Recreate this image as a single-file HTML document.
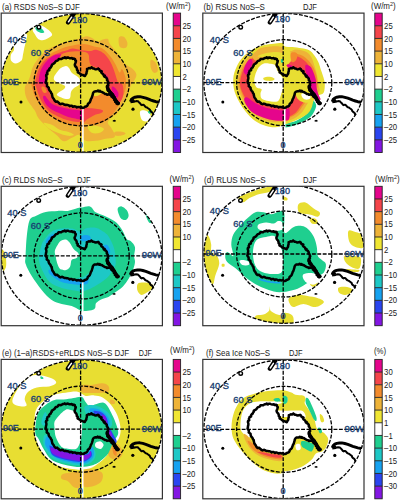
<!DOCTYPE html><html><head><meta charset="utf-8"><style>html,body{margin:0;padding:0;background:#fff;width:401px;height:500px;overflow:hidden}svg{display:block;font-family:"Liberation Sans",sans-serif}</style></head><body>
<svg width="401" height="500" viewBox="0 0 401 500">
<defs><clipPath id="ce"><ellipse cx="0" cy="0" rx="80.3" ry="69.3"/></clipPath>
<clipPath id="cl"><path d="M-35.8 0.2 L-35.3 -5.8 L-34.3 -10.8 L-31.8 -14.8 L-28.8 -18.8 L-25.8 -21.8 L-21.8 -23.8 L-17.8 -24.8 L-13.8 -25.3 L-9.8 -24.8 L-6.8 -23.8 L-5.8 -21.8 L-6.5 -19.5 L-6.3 -16.3 L-4.8 -12.8 L-2.8 -9.8 L0.2 -7.8 L3.2 -6.8 L4.7 -9.3 L5.2 -11.8 L5.2 -13.8 L7.2 -14.8 L10.2 -15.3 L12.2 -14.3 L16.2 -13.8 L19.2 -11.8 L21.2 -8.8 L23.2 -5.8 L25.2 -3.8 L26.4 -0.8 L26.2 1.2 L25.4 5.2 L26.4 8.2 L29.2 10.2 L31.5 12.5 L33.0 16.0 L34.7 19.2 L37.0 20.5 L35.5 21.2 L33.3 19.0 L31.3 15.0 L29.5 12.4 L27.6 11.8 L24.5 11.2 L21.3 9.9 L18.2 8.0 L14.2 8.4 L11.2 10.4 L10.2 14.2 L8.2 19.2 L5.2 23.2 L2.2 24.8 L-1.8 24.5 L-7.8 23.5 L-12.8 22.7 L-17.8 21.7 L-22.8 20.2 L-26.8 18.2 L-28.8 15.2 L-29.8 11.2 L-31.8 8.2 L-33.8 4.2 Z"/></clipPath>
<g id="land" fill="none" stroke="#000" stroke-width="2.5" stroke-linejoin="round"><path d="M-35.8 0.2 L-36.1 -0.8 L-35.6 -1.8 L-35.7 -2.8 L-35.3 -3.8 L-35.2 -4.8 L-35.3 -5.8 L-35.7 -6.9 L-35.5 -7.9 L-34.3 -8.7 L-34.8 -9.9 L-34.3 -10.8 L-34.0 -12.0 L-32.5 -12.5 L-32.5 -13.8 L-31.8 -14.8 L-30.9 -15.3 L-30.6 -16.4 L-29.9 -17.1 L-29.8 -18.3 L-28.8 -18.8 L-27.9 -19.4 L-27.0 -20.0 L-26.5 -21.0 L-25.8 -21.8 L-24.7 -22.0 L-23.7 -22.6 L-23.1 -23.8 L-21.8 -23.8 L-20.7 -23.7 L-19.8 -24.2 L-18.9 -24.8 L-17.8 -24.8 L-16.9 -25.5 L-15.7 -24.6 L-14.8 -25.2 L-13.8 -25.3 L-12.8 -24.9 L-11.9 -24.6 L-10.8 -24.6 L-9.8 -24.8 L-9.0 -23.9 L-7.8 -24.3 L-6.8 -23.8 L-6.6 -22.6 L-5.8 -21.8 L-6.1 -20.6 L-6.5 -19.5 L-7.0 -18.4 L-6.9 -17.3 L-6.3 -16.3 L-5.3 -15.3 L-4.9 -14.2 L-4.8 -12.8 L-3.8 -12.0 L-4.0 -10.5 L-2.8 -9.8 L-1.8 -9.2 L-0.9 -8.3 L0.2 -7.8 L1.3 -7.7 L2.2 -7.1 L3.2 -6.8 L3.8 -8.1 L4.7 -9.3 L4.8 -10.6 L5.2 -11.8 L5.3 -12.8 L5.2 -13.8 L6.2 -14.2 L7.2 -14.8 L8.3 -14.4 L9.2 -14.9 L10.2 -15.3 L11.0 -14.3 L12.2 -14.3 L13.1 -13.7 L14.1 -13.4 L15.2 -13.7 L16.2 -13.8 L17.4 -13.5 L17.9 -12.1 L19.2 -11.8 L19.4 -10.5 L20.1 -9.5 L21.2 -8.8 L21.8 -7.8 L22.3 -6.6 L23.2 -5.8 L24.5 -5.1 L25.2 -3.8 L25.2 -2.6 L25.9 -1.8 L26.4 -0.8 L26.6 0.2 L26.2 1.2 L26.6 2.3 L25.3 3.1 L25.0 4.1 L25.4 5.2 L26.2 6.0 L25.7 7.3 L26.4 8.2 L27.4 8.8 L28.5 9.2 L29.2 10.2 L30.2 10.8 L30.5 12.0 L31.5 12.5 L31.6 13.9 L33.0 14.6 L33.0 16.0 L33.4 17.1 L34.7 17.9 L34.7 19.2 L35.7 20.1 L37.0 20.5 L35.5 21.2 L34.6 20.6 L34.4 19.4 L33.3 19.0 L33.4 17.7 L32.3 17.0 L32.4 15.7 L31.3 15.0 L30.5 14.3 L29.6 13.6 L29.5 12.4 L27.6 11.8 L26.6 11.5 L25.4 12.0 L24.5 11.2 L23.3 11.1 L22.3 10.4 L21.3 9.9 L20.3 9.1 L19.0 9.0 L18.2 8.0 L17.3 8.7 L16.2 7.7 L15.2 8.5 L14.2 8.4 L12.9 8.6 L11.9 9.3 L11.2 10.4 L11.0 11.7 L10.6 12.9 L10.2 14.2 L9.8 15.2 L9.2 16.1 L8.9 17.2 L8.5 18.2 L8.2 19.2 L7.3 20.1 L6.2 20.9 L5.9 22.2 L5.2 23.2 L4.2 23.8 L3.1 24.0 L2.2 24.8 L1.2 25.1 L0.2 24.9 L-0.8 24.0 L-1.8 24.5 L-2.8 24.3 L-3.8 24.1 L-4.9 24.6 L-5.8 23.9 L-6.8 23.6 L-7.8 23.5 L-8.9 24.0 L-9.8 23.0 L-10.8 22.9 L-11.9 23.4 L-12.8 22.7 L-13.8 22.3 L-14.8 22.3 L-15.8 21.9 L-16.8 22.1 L-17.8 21.7 L-18.7 21.1 L-19.7 20.8 L-21.0 21.4 L-22.0 21.0 L-22.8 20.2 L-23.7 19.5 L-24.5 18.7 L-25.9 19.0 L-26.8 18.2 L-27.5 17.2 L-28.0 16.1 L-28.8 15.2 L-29.3 14.3 L-29.5 13.2 L-29.8 12.3 L-29.8 11.2 L-30.6 10.3 L-31.0 9.1 L-31.8 8.2 L-32.5 7.3 L-32.9 6.3 L-33.0 5.0 L-33.8 4.2 L-34.9 3.5 L-34.7 2.2 L-35.0 1.1 Z"/>
<path d="M25.8 5.5 L28.3 9.3 L30.9 12.4 L32.8 15.8 L34.8 18.8 L36.4 20.6" stroke-width="3.4" stroke-linecap="round"/>
<circle cx="16.5" cy="-14.6" r="0.9" fill="#000" stroke="none"/>
<circle cx="20.2" cy="-11.6" r="1.0" fill="#000" stroke="none"/>
<circle cx="23.2" cy="-7.2" r="1.1" fill="#000" stroke="none"/>
<circle cx="25.6" cy="-3.6" r="1.0" fill="#000" stroke="none"/>
<circle cx="27.1" cy="0.2" r="0.9" fill="#000" stroke="none"/>
<circle cx="26.6" cy="4.2" r="1.0" fill="#000" stroke="none"/>
<circle cx="28.2" cy="8.6" r="1.1" fill="#000" stroke="none"/>
<circle cx="30.8" cy="11.4" r="1.2" fill="#000" stroke="none"/>
<circle cx="33.6" cy="15.8" r="1.1" fill="#000" stroke="none"/>
<circle cx="36.2" cy="19.8" r="1.2" fill="#000" stroke="none"/>
<circle cx="9.6" cy="-16.0" r="0.8" fill="#000" stroke="none"/>
<path d="M-13.7 -60.4 L-8.2 -68.8" stroke-width="4.4" stroke-linecap="round"/>
<path d="M-13.3 -61.0 L-10.2 -65.6" stroke="#fff" stroke-width="1.5" stroke-linecap="round"/>
<path d="M-8.2 -68.8 L-6.5 -71" stroke-width="2.4"/>
<circle cx="-42.9" cy="-55.6" r="1.8" fill="#fff" stroke-width="1.4"/>
<path d="M48.7 18.9 L49.6 16.6 L51.2 15.2 L53.2 14.4 L55.8 14 L58.2 13.9 L61.2 14.5 L64.2 15.4 L66.8 16.4 L69.2 17.4 L71.8 18.2 L74.2 18.9 L77.6 19.5" stroke-width="2.9"/>
<path d="M48.7 19.4 L50.5 19.2 L52.2 18.9 L54.4 18.3 L56.2 18.4 L57.3 19.6 L58.2 20.4 L59.2 21.8 L60.2 22.4 L61.3 21.9 L62.2 22.4 L63.2 23.6 L64.2 24.4 L65.3 24.7 L66.2 25.4 L67.3 26.2 L68.2 26.9 L68.6 28.1 L69.2 28.9 L70.3 29.6 L71.2 30.4 L71.7 32.4" stroke-width="2.0"/>
<ellipse cx="50.5" cy="17.5" rx="2.2" ry="1.6" fill="#000" stroke="none"/>
<circle cx="51.2" cy="26.4" r="1.6" fill="#000" stroke="none"/>
<circle cx="32.5" cy="37.8" r="0.9" fill="#000" stroke="none"/>
<circle cx="-60.8" cy="19.2" r="1.5" fill="#000" stroke="none"/>
<path d="M31 38 h3" stroke-width="1.2"/></g>
<clipPath id="cba"><rect x="1.2" y="13.1" width="161.2" height="139.4"/></clipPath>
<clipPath id="cea"><ellipse cx="81.6" cy="82.9" rx="80.3" ry="69.3"/></clipPath>
<clipPath id="cla"><path transform="translate(81.8 82.8)" d="M-35.8 0.2 L-35.3 -5.8 L-34.3 -10.8 L-31.8 -14.8 L-28.8 -18.8 L-25.8 -21.8 L-21.8 -23.8 L-17.8 -24.8 L-13.8 -25.3 L-9.8 -24.8 L-6.8 -23.8 L-5.8 -21.8 L-6.5 -19.5 L-6.3 -16.3 L-4.8 -12.8 L-2.8 -9.8 L0.2 -7.8 L3.2 -6.8 L4.7 -9.3 L5.2 -11.8 L5.2 -13.8 L7.2 -14.8 L10.2 -15.3 L12.2 -14.3 L16.2 -13.8 L19.2 -11.8 L21.2 -8.8 L23.2 -5.8 L25.2 -3.8 L26.4 -0.8 L26.2 1.2 L25.4 5.2 L26.4 8.2 L29.2 10.2 L31.5 12.5 L33.0 16.0 L34.7 19.2 L37.0 20.5 L35.5 21.2 L33.3 19.0 L31.3 15.0 L29.5 12.4 L27.6 11.8 L24.5 11.2 L21.3 9.9 L18.2 8.0 L14.2 8.4 L11.2 10.4 L10.2 14.2 L8.2 19.2 L5.2 23.2 L2.2 24.8 L-1.8 24.5 L-7.8 23.5 L-12.8 22.7 L-17.8 21.7 L-22.8 20.2 L-26.8 18.2 L-28.8 15.2 L-29.8 11.2 L-31.8 8.2 L-33.8 4.2 Z"/></clipPath>
<clipPath id="cbb"><rect x="202.8" y="13.1" width="161.2" height="139.4"/></clipPath>
<clipPath id="ceb"><ellipse cx="284.2" cy="82.7" rx="80.3" ry="69.3"/></clipPath>
<clipPath id="clb"><path transform="translate(283.6 82.8)" d="M-35.8 0.2 L-35.3 -5.8 L-34.3 -10.8 L-31.8 -14.8 L-28.8 -18.8 L-25.8 -21.8 L-21.8 -23.8 L-17.8 -24.8 L-13.8 -25.3 L-9.8 -24.8 L-6.8 -23.8 L-5.8 -21.8 L-6.5 -19.5 L-6.3 -16.3 L-4.8 -12.8 L-2.8 -9.8 L0.2 -7.8 L3.2 -6.8 L4.7 -9.3 L5.2 -11.8 L5.2 -13.8 L7.2 -14.8 L10.2 -15.3 L12.2 -14.3 L16.2 -13.8 L19.2 -11.8 L21.2 -8.8 L23.2 -5.8 L25.2 -3.8 L26.4 -0.8 L26.2 1.2 L25.4 5.2 L26.4 8.2 L29.2 10.2 L31.5 12.5 L33.0 16.0 L34.7 19.2 L37.0 20.5 L35.5 21.2 L33.3 19.0 L31.3 15.0 L29.5 12.4 L27.6 11.8 L24.5 11.2 L21.3 9.9 L18.2 8.0 L14.2 8.4 L11.2 10.4 L10.2 14.2 L8.2 19.2 L5.2 23.2 L2.2 24.8 L-1.8 24.5 L-7.8 23.5 L-12.8 22.7 L-17.8 21.7 L-22.8 20.2 L-26.8 18.2 L-28.8 15.2 L-29.8 11.2 L-31.8 8.2 L-33.8 4.2 Z"/></clipPath>
<clipPath id="cbc"><rect x="1.2" y="186.3" width="161.2" height="139.4"/></clipPath>
<clipPath id="cec"><ellipse cx="81.6" cy="255.9" rx="80.3" ry="69.3"/></clipPath>
<clipPath id="clc"><path transform="translate(81.6 256.0)" d="M-35.8 0.2 L-35.3 -5.8 L-34.3 -10.8 L-31.8 -14.8 L-28.8 -18.8 L-25.8 -21.8 L-21.8 -23.8 L-17.8 -24.8 L-13.8 -25.3 L-9.8 -24.8 L-6.8 -23.8 L-5.8 -21.8 L-6.5 -19.5 L-6.3 -16.3 L-4.8 -12.8 L-2.8 -9.8 L0.2 -7.8 L3.2 -6.8 L4.7 -9.3 L5.2 -11.8 L5.2 -13.8 L7.2 -14.8 L10.2 -15.3 L12.2 -14.3 L16.2 -13.8 L19.2 -11.8 L21.2 -8.8 L23.2 -5.8 L25.2 -3.8 L26.4 -0.8 L26.2 1.2 L25.4 5.2 L26.4 8.2 L29.2 10.2 L31.5 12.5 L33.0 16.0 L34.7 19.2 L37.0 20.5 L35.5 21.2 L33.3 19.0 L31.3 15.0 L29.5 12.4 L27.6 11.8 L24.5 11.2 L21.3 9.9 L18.2 8.0 L14.2 8.4 L11.2 10.4 L10.2 14.2 L8.2 19.2 L5.2 23.2 L2.2 24.8 L-1.8 24.5 L-7.8 23.5 L-12.8 22.7 L-17.8 21.7 L-22.8 20.2 L-26.8 18.2 L-28.8 15.2 L-29.8 11.2 L-31.8 8.2 L-33.8 4.2 Z"/></clipPath>
<clipPath id="cbd"><rect x="202.8" y="186.3" width="161.2" height="139.4"/></clipPath>
<clipPath id="ced"><ellipse cx="284.2" cy="254.0" rx="80.3" ry="69.3"/></clipPath>
<clipPath id="cld"><path transform="translate(283.4 256.0)" d="M-35.8 0.2 L-35.3 -5.8 L-34.3 -10.8 L-31.8 -14.8 L-28.8 -18.8 L-25.8 -21.8 L-21.8 -23.8 L-17.8 -24.8 L-13.8 -25.3 L-9.8 -24.8 L-6.8 -23.8 L-5.8 -21.8 L-6.5 -19.5 L-6.3 -16.3 L-4.8 -12.8 L-2.8 -9.8 L0.2 -7.8 L3.2 -6.8 L4.7 -9.3 L5.2 -11.8 L5.2 -13.8 L7.2 -14.8 L10.2 -15.3 L12.2 -14.3 L16.2 -13.8 L19.2 -11.8 L21.2 -8.8 L23.2 -5.8 L25.2 -3.8 L26.4 -0.8 L26.2 1.2 L25.4 5.2 L26.4 8.2 L29.2 10.2 L31.5 12.5 L33.0 16.0 L34.7 19.2 L37.0 20.5 L35.5 21.2 L33.3 19.0 L31.3 15.0 L29.5 12.4 L27.6 11.8 L24.5 11.2 L21.3 9.9 L18.2 8.0 L14.2 8.4 L11.2 10.4 L10.2 14.2 L8.2 19.2 L5.2 23.2 L2.2 24.8 L-1.8 24.5 L-7.8 23.5 L-12.8 22.7 L-17.8 21.7 L-22.8 20.2 L-26.8 18.2 L-28.8 15.2 L-29.8 11.2 L-31.8 8.2 L-33.8 4.2 Z"/></clipPath>
<clipPath id="cbe"><rect x="1.2" y="359.4" width="161.2" height="139.4"/></clipPath>
<clipPath id="cee"><ellipse cx="81.6" cy="429.1" rx="80.3" ry="69.3"/></clipPath>
<clipPath id="cle"><path transform="translate(81.6 428.9)" d="M-35.8 0.2 L-35.3 -5.8 L-34.3 -10.8 L-31.8 -14.8 L-28.8 -18.8 L-25.8 -21.8 L-21.8 -23.8 L-17.8 -24.8 L-13.8 -25.3 L-9.8 -24.8 L-6.8 -23.8 L-5.8 -21.8 L-6.5 -19.5 L-6.3 -16.3 L-4.8 -12.8 L-2.8 -9.8 L0.2 -7.8 L3.2 -6.8 L4.7 -9.3 L5.2 -11.8 L5.2 -13.8 L7.2 -14.8 L10.2 -15.3 L12.2 -14.3 L16.2 -13.8 L19.2 -11.8 L21.2 -8.8 L23.2 -5.8 L25.2 -3.8 L26.4 -0.8 L26.2 1.2 L25.4 5.2 L26.4 8.2 L29.2 10.2 L31.5 12.5 L33.0 16.0 L34.7 19.2 L37.0 20.5 L35.5 21.2 L33.3 19.0 L31.3 15.0 L29.5 12.4 L27.6 11.8 L24.5 11.2 L21.3 9.9 L18.2 8.0 L14.2 8.4 L11.2 10.4 L10.2 14.2 L8.2 19.2 L5.2 23.2 L2.2 24.8 L-1.8 24.5 L-7.8 23.5 L-12.8 22.7 L-17.8 21.7 L-22.8 20.2 L-26.8 18.2 L-28.8 15.2 L-29.8 11.2 L-31.8 8.2 L-33.8 4.2 Z"/></clipPath>
<clipPath id="cbf"><rect x="202.8" y="359.4" width="161.2" height="139.4"/></clipPath>
<clipPath id="cef"><ellipse cx="284.2" cy="429.3" rx="80.3" ry="69.3"/></clipPath>
<clipPath id="clf"><path transform="translate(283.6 429.0)" d="M-35.8 0.2 L-35.3 -5.8 L-34.3 -10.8 L-31.8 -14.8 L-28.8 -18.8 L-25.8 -21.8 L-21.8 -23.8 L-17.8 -24.8 L-13.8 -25.3 L-9.8 -24.8 L-6.8 -23.8 L-5.8 -21.8 L-6.5 -19.5 L-6.3 -16.3 L-4.8 -12.8 L-2.8 -9.8 L0.2 -7.8 L3.2 -6.8 L4.7 -9.3 L5.2 -11.8 L5.2 -13.8 L7.2 -14.8 L10.2 -15.3 L12.2 -14.3 L16.2 -13.8 L19.2 -11.8 L21.2 -8.8 L23.2 -5.8 L25.2 -3.8 L26.4 -0.8 L26.2 1.2 L25.4 5.2 L26.4 8.2 L29.2 10.2 L31.5 12.5 L33.0 16.0 L34.7 19.2 L37.0 20.5 L35.5 21.2 L33.3 19.0 L31.3 15.0 L29.5 12.4 L27.6 11.8 L24.5 11.2 L21.3 9.9 L18.2 8.0 L14.2 8.4 L11.2 10.4 L10.2 14.2 L8.2 19.2 L5.2 23.2 L2.2 24.8 L-1.8 24.5 L-7.8 23.5 L-12.8 22.7 L-17.8 21.7 L-22.8 20.2 L-26.8 18.2 L-28.8 15.2 L-29.8 11.2 L-31.8 8.2 L-33.8 4.2 Z"/></clipPath>
</defs>
<rect x="1.2" y="13.1" width="161.2" height="139.4" fill="#fff"/>
<g clip-path="url(#cba)">
<g clip-path="url(#cea)">
<ellipse cx="81.6" cy="82.9" rx="80.3" ry="69.3" fill="#e8de32"/>
<g transform="translate(81.8 82.8)">
<path d="M-47.6 -55.3 C-46.7 -56.3 -45.5 -58.2 -43.9 -58.3 C-42.3 -58.4 -39.9 -57.2 -37.9 -56.1 C-35.9 -55.0 -33.3 -53.0 -31.9 -51.6 C-30.5 -50.2 -29.4 -48.9 -29.7 -47.8 C-29.9 -46.7 -31.8 -45.7 -33.4 -44.8 C-35.0 -43.9 -37.6 -42.7 -39.4 -42.6 C-41.1 -42.5 -42.6 -43.1 -43.9 -44.1 C-45.1 -45.1 -46.0 -47.2 -46.9 -48.6 C-47.8 -50.0 -49.0 -51.2 -49.1 -52.3 C-49.2 -53.4 -48.5 -54.3 -47.6 -55.3 Z" fill="#ffffff"/>
<path d="M-46.5 -55.0 C-46.2 -55.8 -44.2 -56.8 -43.0 -56.5 C-41.8 -56.2 -40.4 -54.5 -39.5 -53.5 C-38.6 -52.5 -37.3 -51.1 -37.5 -50.5 C-37.7 -49.9 -39.3 -49.6 -40.5 -49.8 C-41.7 -50.0 -43.5 -50.6 -44.5 -51.5 C-45.5 -52.4 -46.8 -54.2 -46.5 -55.0 Z" fill="#1fcf8f"/>
<path d="M-55.1 -48.6 C-53.9 -47.9 -55.4 -43.9 -55.8 -41.8 C-56.2 -39.7 -56.8 -38.1 -57.3 -35.9 C-57.8 -33.7 -58.3 -30.6 -58.8 -28.4 C-59.3 -26.1 -59.0 -23.9 -60.3 -22.4 C-61.5 -20.9 -64.5 -19.4 -66.3 -19.4 C-68.0 -19.4 -70.0 -20.9 -70.8 -22.4 C-71.5 -23.9 -71.3 -26.6 -70.8 -28.4 C-70.3 -30.1 -68.3 -30.9 -67.8 -32.9 C-67.3 -34.9 -68.5 -38.1 -67.8 -40.3 C-67.0 -42.5 -65.4 -44.9 -63.3 -46.3 C-61.2 -47.7 -56.4 -49.4 -55.1 -48.6 Z" fill="#ffffff"/>
<path d="M58.2 29.0 C58.7 27.4 61.5 27.4 63.0 27.6 C64.5 27.8 66.0 28.9 67.0 30.0 C68.0 31.1 69.3 32.6 69.0 34.0 C68.7 35.4 66.5 38.0 65.0 38.5 C63.5 39.0 61.1 38.6 60.0 37.0 C58.9 35.4 57.7 30.6 58.2 29.0 Z" fill="#ffffff"/>
<path d="M66.0 29.0 C66.2 28.3 68.2 27.0 69.0 27.0 C69.8 27.0 70.7 28.3 70.5 29.0 C70.3 29.7 68.8 31.0 68.0 31.0 C67.2 31.0 65.8 29.7 66.0 29.0 Z" fill="#1fcf8f"/>
<path d="M37.1 -45.1 C37.8 -46.8 40.6 -46.9 42.0 -46.0 C43.4 -45.1 45.3 -41.8 45.6 -40.0 C45.9 -38.2 45.3 -35.7 44.0 -35.0 C42.7 -34.3 39.1 -34.3 38.0 -36.0 C36.9 -37.7 36.4 -43.4 37.1 -45.1 Z" fill="#eeb338"/>
<path d="M69.0 -22.8 C69.8 -23.6 72.8 -21.8 74.0 -20.0 C75.2 -18.2 76.3 -13.7 76.0 -12.0 C75.7 -10.3 73.2 -9.5 72.0 -10.0 C70.8 -10.5 69.5 -12.9 69.0 -15.0 C68.5 -17.1 68.2 -22.0 69.0 -22.8 Z" fill="#eeb338"/>
<path d="M33.0 49.3 C34.2 48.7 38.2 48.7 40.0 49.0 C41.8 49.3 44.1 50.3 43.8 51.0 C43.5 51.7 39.8 52.8 38.0 53.0 C36.2 53.2 33.8 53.1 33.0 52.5 C32.2 51.9 31.8 49.9 33.0 49.3 Z" fill="#eeb338"/>
<path d="M-51.8 -6.3 C-51.0 -8.7 -50.3 -12.8 -49.2 -15.4 C-48.1 -18.0 -46.8 -19.8 -45.3 -21.9 C-43.8 -24.0 -42.0 -26.4 -40.1 -28.3 C-38.2 -30.2 -36.0 -32.0 -33.6 -33.5 C-31.2 -35.0 -28.5 -36.3 -25.9 -37.4 C-23.3 -38.5 -20.9 -39.2 -18.1 -40.0 C-15.3 -40.8 -12.1 -41.1 -9.0 -42.0 C-5.9 -42.9 -2.2 -44.5 0.2 -45.2 C2.6 -46.0 3.7 -46.6 5.4 -46.5 C7.1 -46.4 8.9 -45.5 10.6 -44.6 C12.3 -43.7 14.1 -41.5 15.8 -41.3 C17.5 -41.1 19.2 -42.9 20.9 -43.3 C22.6 -43.7 25.0 -44.4 26.1 -43.9 C27.2 -43.4 26.5 -41.5 27.4 -40.0 C28.3 -38.5 29.8 -36.8 31.3 -34.8 C32.8 -32.8 35.0 -30.4 36.5 -28.3 C38.0 -26.2 38.9 -23.7 40.4 -21.9 C41.9 -20.1 43.8 -18.8 45.6 -17.4 C47.4 -16.0 49.5 -15.3 51.0 -13.8 C52.5 -12.3 54.3 -10.2 54.6 -8.4 C54.9 -6.6 53.7 -4.8 52.8 -3.0 C51.9 -1.2 50.1 0.6 49.2 2.4 C48.3 4.2 48.0 6.0 47.4 7.8 C46.8 9.6 46.5 11.4 45.6 13.2 C44.7 15.0 43.2 16.5 42.0 18.6 C40.8 20.7 39.6 23.7 38.4 25.8 C37.2 27.9 36.3 29.8 34.8 31.3 C33.3 32.8 30.9 33.4 29.4 34.9 C27.9 36.4 25.9 38.1 26.0 40.0 C26.1 41.9 28.8 43.7 30.0 46.0 C31.2 48.3 34.0 52.3 33.0 54.0 C32.0 55.7 27.2 55.3 24.0 56.0 C20.8 56.7 17.3 57.7 14.0 58.0 C10.7 58.3 6.8 59.0 4.0 58.0 C1.2 57.0 -0.2 52.5 -2.5 52.0 C-4.8 51.5 -7.4 53.9 -10.0 55.0 C-12.6 56.1 -15.5 58.9 -18.0 58.5 C-20.5 58.1 -22.6 54.4 -25.0 52.4 C-27.4 50.4 -29.7 48.9 -32.7 46.2 C-35.7 43.5 -40.5 39.1 -42.9 36.0 C-45.3 32.9 -45.0 31.2 -47.0 27.8 C-49.0 24.4 -53.5 19.4 -55.2 15.6 C-56.9 11.8 -57.2 7.8 -57.0 5.0 C-56.8 2.2 -54.9 0.9 -54.0 -1.0 C-53.1 -2.9 -52.6 -3.9 -51.8 -6.3 Z" fill="#eeb338"/>
<path d="M-38.0 40.0 C-37.3 39.5 -32.7 40.8 -30.0 42.0 C-27.3 43.2 -24.7 45.8 -22.0 47.0 C-19.3 48.2 -16.3 48.2 -14.0 49.0 C-11.7 49.8 -8.0 51.3 -8.0 52.0 C-8.0 52.7 -11.3 53.3 -14.0 53.0 C-16.7 52.7 -20.7 51.3 -24.0 50.0 C-27.3 48.7 -31.7 46.7 -34.0 45.0 C-36.3 43.3 -38.7 40.5 -38.0 40.0 Z" fill="#e8de32"/>
<path d="M6.0 44.0 C6.7 42.8 11.3 42.7 14.0 43.0 C16.7 43.3 21.3 44.8 22.0 46.0 C22.7 47.2 20.0 49.3 18.0 50.0 C16.0 50.7 12.0 51.0 10.0 50.0 C8.0 49.0 5.3 45.2 6.0 44.0 Z" fill="#e8de32"/>
<path d="M-50.5 0.2 C-50.7 1.3 -49.9 4.3 -49.2 6.7 C-48.6 9.1 -47.9 11.9 -46.6 14.5 C-45.3 17.1 -43.3 19.6 -41.4 22.2 C-39.5 24.8 -37.6 27.6 -35.0 30.0 C-32.4 32.4 -29.1 34.8 -25.9 36.5 C-22.6 38.2 -19.4 39.3 -15.5 40.4 C-11.6 41.5 -5.8 42.9 -2.5 43.0 C0.8 43.1 1.9 41.2 4.0 41.0 C6.1 40.8 7.3 42.2 10.0 42.0 C12.7 41.8 17.3 41.0 20.0 40.0 C22.7 39.0 24.0 37.7 26.0 36.0 C28.0 34.3 30.3 32.0 32.0 30.0 C33.7 28.0 34.7 26.3 36.0 24.0 C37.3 21.7 38.7 19.0 40.0 16.0 C41.3 13.0 43.2 9.5 43.8 6.0 C44.4 2.5 44.4 -1.5 43.8 -4.8 C43.2 -8.1 41.2 -12.9 40.2 -13.8 C39.2 -14.7 38.8 -9.5 37.8 -10.2 C36.8 -10.9 35.2 -15.6 33.9 -18.0 C32.6 -20.4 31.5 -22.4 30.0 -24.5 C28.5 -26.6 26.5 -29.2 24.8 -30.9 C23.1 -32.6 21.6 -33.9 19.7 -34.8 C17.8 -35.7 15.4 -35.5 13.2 -36.1 C11.0 -36.7 8.9 -37.7 6.7 -38.1 C4.5 -38.5 2.8 -38.8 0.2 -38.7 C-2.4 -38.6 -6.2 -37.9 -9.0 -37.4 C-11.8 -36.9 -14.2 -36.4 -16.8 -35.5 C-19.4 -34.6 -22.0 -33.4 -24.6 -32.2 C-27.2 -31.0 -29.9 -29.8 -32.3 -28.3 C-34.7 -26.8 -36.8 -25.1 -38.8 -23.2 C-40.8 -21.3 -42.7 -19.1 -44.0 -16.7 C-45.3 -14.3 -46.0 -11.7 -46.6 -8.9 C-47.2 -6.1 -47.2 -1.3 -47.9 0.2 C-48.5 1.7 -50.3 -0.9 -50.5 0.2 Z" fill="#f38b2c"/>
<path d="M-46.6 0.2 C-46.7 2.6 -45.9 3.2 -45.3 5.4 C-44.6 7.6 -43.8 10.6 -42.7 13.2 C-41.6 15.8 -40.5 18.4 -38.8 21.0 C-37.1 23.6 -34.9 26.6 -32.3 28.7 C-29.7 30.8 -26.5 32.4 -23.3 33.9 C-20.1 35.4 -16.4 36.9 -12.9 37.8 C-9.4 38.7 -4.5 39.7 -2.5 39.1 C-0.5 38.5 -1.2 36.2 -1.0 34.0 C-0.8 31.8 0.5 27.5 -1.0 26.0 C-2.5 24.5 -6.8 25.5 -10.0 25.0 C-13.2 24.5 -16.8 24.3 -20.0 23.0 C-23.2 21.7 -26.8 19.5 -29.0 17.0 C-31.2 14.5 -32.2 10.8 -33.0 8.0 C-33.8 5.2 -33.8 2.8 -34.0 0.0 C-34.2 -2.8 -34.5 -6.4 -34.0 -9.0 C-33.5 -11.6 -32.0 -13.5 -31.0 -15.5 C-30.0 -17.5 -29.2 -19.2 -28.0 -21.0 C-26.8 -22.8 -25.7 -24.6 -24.0 -26.0 C-22.3 -27.4 -20.0 -28.7 -18.0 -29.5 C-16.0 -30.3 -14.0 -30.7 -12.0 -31.0 C-10.0 -31.3 -8.0 -31.5 -6.0 -31.5 C-4.0 -31.5 -1.8 -31.4 0.0 -31.2 C1.8 -30.9 3.8 -30.6 5.0 -30.0 C6.2 -29.4 6.6 -28.8 7.0 -27.5 C7.4 -26.2 7.2 -23.5 7.5 -22.0 C7.8 -20.5 8.0 -19.4 8.5 -18.5 C9.0 -17.6 9.5 -17.3 10.6 -16.7 C11.7 -16.1 13.6 -15.8 15.0 -15.0 C16.4 -14.2 17.7 -13.3 19.0 -12.0 C20.3 -10.7 21.8 -8.8 23.0 -7.0 C24.2 -5.2 25.2 -2.8 26.0 -1.0 C26.8 0.8 27.2 2.3 28.0 4.0 C28.8 5.7 29.8 9.6 31.0 9.0 C32.2 8.4 34.9 2.5 35.5 0.2 C36.1 -2.1 35.0 -3.0 34.5 -5.0 C34.0 -7.0 33.2 -9.3 32.5 -11.5 C31.8 -13.7 30.9 -16.0 30.0 -18.0 C29.1 -20.0 28.2 -21.8 27.0 -23.5 C25.8 -25.2 24.5 -27.1 23.0 -28.5 C21.5 -29.9 19.7 -31.1 18.0 -31.8 C16.3 -32.5 14.5 -33.0 13.0 -33.0 C11.5 -33.0 11.2 -31.9 9.0 -31.8 C6.8 -31.7 3.0 -32.1 0.0 -32.5 C-3.0 -32.9 -6.4 -34.2 -9.0 -34.2 C-11.6 -34.2 -13.3 -32.9 -15.5 -32.2 C-17.7 -31.6 -19.6 -31.2 -22.0 -30.3 C-24.4 -29.4 -27.4 -28.3 -29.8 -27.1 C-32.2 -25.9 -34.3 -24.9 -36.2 -23.2 C-38.1 -21.5 -40.0 -19.1 -41.4 -16.7 C-42.8 -14.3 -43.8 -11.7 -44.7 -8.9 C-45.6 -6.1 -46.5 -2.2 -46.6 0.2 Z" fill="#f5454a"/>
<path d="M-40.1 4.1 C-39.6 3.7 -37.9 3.6 -37.0 4.5 C-36.1 5.4 -34.8 8.4 -35.0 9.3 C-35.2 10.2 -37.2 10.4 -38.0 10.0 C-38.8 9.6 -39.6 8.0 -40.0 7.0 C-40.4 6.0 -40.6 4.5 -40.1 4.1 Z" fill="#f38b2c"/>
<path d="M-42.7 0.2 C-43.4 -1.4 -42.8 -6.1 -42.1 -8.9 C-41.5 -11.7 -40.2 -14.3 -38.8 -16.7 C-37.4 -19.1 -35.3 -21.5 -33.6 -23.2 C-31.9 -24.9 -30.0 -26.2 -28.5 -27.1 C-27.0 -28.0 -25.9 -28.1 -24.6 -28.3 C-23.3 -28.5 -21.1 -28.9 -20.7 -28.5 C-20.3 -28.1 -21.4 -26.6 -22.0 -25.8 C-22.6 -25.0 -23.5 -24.7 -24.6 -23.8 C-25.7 -22.9 -27.2 -22.0 -28.5 -20.6 C-29.8 -19.2 -31.2 -17.4 -32.3 -15.4 C-33.4 -13.4 -34.5 -11.3 -35.0 -8.9 C-35.5 -6.5 -35.0 -2.6 -35.5 -1.0 C-36.0 0.6 -36.8 0.3 -38.0 0.5 C-39.2 0.7 -42.0 1.8 -42.7 0.2 Z" fill="#e5058c"/>
<path d="M-38.8 14.5 C-38.7 15.8 -37.5 19.1 -36.2 21.0 C-34.9 22.9 -33.1 24.6 -31.0 26.1 C-28.9 27.6 -26.1 28.7 -23.3 30.0 C-20.5 31.3 -17.7 32.8 -14.2 33.9 C-10.7 35.0 -4.9 36.0 -2.5 36.5 C-0.1 37.0 0.0 38.1 0.5 36.6 C1.0 35.1 1.0 29.0 0.5 27.5 C0.0 26.0 -0.3 27.6 -2.5 27.4 C-4.7 27.2 -9.7 26.6 -12.9 26.1 C-16.1 25.6 -19.2 25.1 -22.0 24.2 C-24.8 23.3 -27.6 22.5 -29.8 21.0 C-32.0 19.5 -33.8 16.4 -35.0 15.1 C-36.2 13.8 -36.4 13.1 -37.0 13.0 C-37.6 12.9 -38.9 13.2 -38.8 14.5 Z" fill="#e5058c"/>
<path d="M1.5 26.1 C2.6 23.8 5.6 25.5 8.0 25.5 C10.4 25.5 13.7 25.8 15.8 26.1 C17.9 26.4 20.2 26.8 20.9 27.4 C21.5 28.0 21.2 29.1 19.7 30.0 C18.2 30.9 14.3 31.5 11.9 32.6 C9.5 33.7 7.1 35.4 5.4 36.5 C3.7 37.6 2.1 40.8 1.5 39.1 C0.8 37.4 0.4 28.4 1.5 26.1 Z" fill="#f5454a"/>
<path d="M26.0 -1.0 C25.9 -2.3 25.2 0.0 27.4 0.2 C29.6 0.4 36.7 -1.1 39.1 0.2 C41.5 1.5 41.5 5.4 41.7 8.0 C41.9 10.6 41.3 13.6 40.4 15.8 C39.5 18.0 37.7 20.3 36.5 21.0 C35.3 21.7 33.9 21.2 33.0 20.0 C32.1 18.8 31.8 16.0 31.0 14.0 C30.2 12.0 28.8 10.5 28.0 8.0 C27.2 5.5 26.1 0.3 26.0 -1.0 Z" fill="#f5454a"/>
<path d="M30.0 4.1 C30.4 3.4 31.9 4.0 33.0 5.0 C34.1 6.0 36.0 8.4 36.5 10.0 C37.0 11.6 36.6 13.8 36.0 14.5 C35.4 15.2 33.9 14.9 33.0 14.0 C32.1 13.1 31.0 10.7 30.5 9.0 C30.0 7.3 29.6 4.8 30.0 4.1 Z" fill="#e5058c"/>
<path d="M23.0 -9.0 C23.3 -9.1 25.5 -6.8 26.0 -6.0 C26.5 -5.2 26.4 -4.1 26.1 -4.0 C25.8 -3.9 24.5 -4.7 24.0 -5.5 C23.5 -6.3 22.7 -8.9 23.0 -9.0 Z" fill="#e5058c"/>
<path d="M12.0 10.0 C12.8 9.2 15.7 8.5 17.0 8.5 C18.3 8.5 20.2 9.2 20.0 10.0 C19.8 10.8 17.3 12.5 16.0 13.0 C14.7 13.5 12.7 13.5 12.0 13.0 C11.3 12.5 11.2 10.8 12.0 10.0 Z" fill="#e8de32"/>
<rect x="0.3" y="20" width="1.6" height="55" fill="#fff"/>
</g></g>
<g clip-path="url(#cla)"><g transform="translate(81.8 82.8)">
<path d="M-35.8 0.2 L-35.3 -5.8 L-34.3 -10.8 L-31.8 -14.8 L-28.8 -18.8 L-25.8 -21.8 L-21.8 -23.8 L-17.8 -24.8 L-13.8 -25.3 L-9.8 -24.8 L-6.8 -23.8 L-5.8 -21.8 L-6.5 -19.5 L-6.3 -16.3 L-4.8 -12.8 L-2.8 -9.8 L0.2 -7.8 L3.2 -6.8 L4.7 -9.3 L5.2 -11.8 L5.2 -13.8 L7.2 -14.8 L10.2 -15.3 L12.2 -14.3 L16.2 -13.8 L19.2 -11.8 L21.2 -8.8 L23.2 -5.8 L25.2 -3.8 L26.4 -0.8 L26.2 1.2 L25.4 5.2 L26.4 8.2 L29.2 10.2 L31.5 12.5 L33.0 16.0 L34.7 19.2 L37.0 20.5 L35.5 21.2 L33.3 19.0 L31.3 15.0 L29.5 12.4 L27.6 11.8 L24.5 11.2 L21.3 9.9 L18.2 8.0 L14.2 8.4 L11.2 10.4 L10.2 14.2 L8.2 19.2 L5.2 23.2 L2.2 24.8 L-1.8 24.5 L-7.8 23.5 L-12.8 22.7 L-17.8 21.7 L-22.8 20.2 L-26.8 18.2 L-28.8 15.2 L-29.8 11.2 L-31.8 8.2 L-33.8 4.2 Z" fill="#e8de32"/>
<path d="M-20.8 -14.8 C-19.5 -15.6 -17.1 -16.8 -15.8 -16.8 C-14.5 -16.8 -13.8 -16.0 -12.8 -14.8 C-11.8 -13.6 -11.3 -11.3 -9.8 -9.8 C-8.3 -8.3 -5.2 -7.1 -3.8 -5.8 C-2.4 -4.5 -1.5 -3.1 -1.3 -1.8 C-1.1 -0.5 -1.7 1.0 -2.8 2.2 C-3.9 3.4 -6.5 4.0 -7.8 5.2 C-9.1 6.4 -10.1 7.5 -10.8 9.2 C-11.5 10.9 -11.0 14.0 -11.8 15.2 C-12.6 16.4 -14.1 16.4 -15.8 16.2 C-17.5 16.0 -20.3 14.9 -21.8 14.2 C-23.3 13.5 -24.5 12.9 -24.8 12.2 C-25.1 11.5 -25.0 11.2 -23.8 10.2 C-22.6 9.2 -19.0 7.4 -17.8 6.2 C-16.6 5.0 -16.3 4.0 -16.8 3.2 C-17.3 2.4 -19.1 2.0 -20.8 1.2 C-22.5 0.4 -25.6 -0.6 -26.8 -1.8 C-28.0 -3.0 -28.3 -4.1 -27.8 -5.8 C-27.3 -7.5 -25.0 -10.3 -23.8 -11.8 C-22.6 -13.3 -22.1 -14.0 -20.8 -14.8 Z" fill="#ffffff"/>
</g></g>
<g transform="translate(81.6 82.9)">
<g fill="none" stroke="#000" stroke-width="1.3" stroke-dasharray="3.9 1.5">
<ellipse cx="0" cy="0" rx="80.3" ry="69.3"/>
<ellipse cx="0" cy="0" rx="47.6" ry="43.0"/>
<path d="M-80.3 0 H80.3 M-1.0 -69.3 V69.3"/>
</g></g>
<g transform="translate(81.8 82.8)"><use href="#land"/></g>
<g transform="translate(81.6 82.9)" stroke="#1a3f72" stroke-width="0.35">
<text x="-74.40" y="-40.00" font-size="9.30" fill="#1a3f72" textLength="19.13" lengthAdjust="spacingAndGlyphs">40 S</text>
<text x="-50.90" y="-26.80" font-size="9.30" fill="#1a3f72" textLength="19.13" lengthAdjust="spacingAndGlyphs">60 S</text>
<text x="-9.40" y="-60.40" font-size="9.30" fill="#1a3f72" textLength="15.20" lengthAdjust="spacingAndGlyphs">180</text>
<text x="-78.60" y="1.90" font-size="9.30" fill="#1a3f72" textLength="15.72" lengthAdjust="spacingAndGlyphs">90E</text>
<text x="60.20" y="2.50" font-size="9.30" fill="#1a3f72" textLength="19.89" lengthAdjust="spacingAndGlyphs">90W</text>
<text x="-3.80" y="65.20" font-size="9.00" fill="#1a3f72" textLength="5.00" lengthAdjust="spacingAndGlyphs">0</text>
</g>
</g>
<rect x="1.2" y="13.1" width="161.2" height="139.4" fill="none" stroke="#333" stroke-width="1.2"/>
<text x="2.00" y="9.50" font-size="8.40" fill="#1a1a1a" textLength="77.80" lengthAdjust="spacingAndGlyphs">(a) RSDS NoS–S DJF</text>
<rect x="173.2" y="13.10" width="7.4" height="12.72" fill="#e5058c"/>
<rect x="173.2" y="25.77" width="7.4" height="12.72" fill="#f5454a"/>
<rect x="173.2" y="38.45" width="7.4" height="12.72" fill="#f38b2c"/>
<rect x="173.2" y="51.12" width="7.4" height="12.72" fill="#eeb338"/>
<rect x="173.2" y="63.79" width="7.4" height="12.72" fill="#f0e632"/>
<rect x="173.2" y="76.46" width="7.4" height="12.72" fill="#ffffff"/>
<rect x="173.2" y="89.14" width="7.4" height="12.72" fill="#1fcf8f"/>
<rect x="173.2" y="101.81" width="7.4" height="12.72" fill="#1dc8c6"/>
<rect x="173.2" y="114.48" width="7.4" height="12.72" fill="#16a2f0"/>
<rect x="173.2" y="127.15" width="7.4" height="12.72" fill="#2a45f0"/>
<rect x="173.2" y="139.83" width="7.4" height="12.72" fill="#8316e3"/>
<g stroke="#222" stroke-width="0.9" fill="none">
<rect x="173.2" y="13.10" width="7.4" height="139.40"/>
<path d="M173.2 25.77 h7.4"/>
<path d="M173.2 38.45 h7.4"/>
<path d="M173.2 51.12 h7.4"/>
<path d="M173.2 63.79 h7.4"/>
<path d="M173.2 76.46 h7.4"/>
<path d="M173.2 89.14 h7.4"/>
<path d="M173.2 101.81 h7.4"/>
<path d="M173.2 114.48 h7.4"/>
<path d="M173.2 127.15 h7.4"/>
<path d="M173.2 139.83 h7.4"/>
</g>
<text x="182.50" y="28.87" font-size="8.60" fill="#1a1a1a" textLength="8.61" lengthAdjust="spacingAndGlyphs">25</text>
<text x="182.50" y="41.55" font-size="8.60" fill="#1a1a1a" textLength="8.61" lengthAdjust="spacingAndGlyphs">20</text>
<text x="182.50" y="54.22" font-size="8.60" fill="#1a1a1a" textLength="8.61" lengthAdjust="spacingAndGlyphs">15</text>
<text x="182.50" y="66.89" font-size="8.60" fill="#1a1a1a" textLength="8.61" lengthAdjust="spacingAndGlyphs">10</text>
<text x="182.50" y="79.56" font-size="8.60" fill="#1a1a1a" textLength="4.30" lengthAdjust="spacingAndGlyphs">2</text>
<text x="182.50" y="92.24" font-size="8.60" fill="#1a1a1a" textLength="8.61" lengthAdjust="spacingAndGlyphs">–2</text>
<text x="182.50" y="104.91" font-size="8.60" fill="#1a1a1a" textLength="12.91" lengthAdjust="spacingAndGlyphs">–10</text>
<text x="182.50" y="117.58" font-size="8.60" fill="#1a1a1a" textLength="12.91" lengthAdjust="spacingAndGlyphs">–15</text>
<text x="182.50" y="130.25" font-size="8.60" fill="#1a1a1a" textLength="12.91" lengthAdjust="spacingAndGlyphs">–20</text>
<text x="182.50" y="142.93" font-size="8.60" fill="#1a1a1a" textLength="12.91" lengthAdjust="spacingAndGlyphs">–25</text>
<text x="166.00" y="8.50" font-size="8.2" fill="#1a1a1a" textLength="24.6" lengthAdjust="spacingAndGlyphs">(W/m<tspan font-size="5.5" dy="-3">2</tspan><tspan dy="3">)</tspan></text>
<rect x="202.8" y="13.1" width="161.2" height="139.4" fill="#fff"/>
<g clip-path="url(#cbb)">
<g clip-path="url(#ceb)">
<ellipse cx="284.2" cy="82.7" rx="80.3" ry="69.3" fill="#ffffff"/>
<g transform="translate(283.6 82.8)">
<path d="M24.0 14.0 C24.5 13.8 27.6 15.7 29.0 17.0 C30.4 18.3 32.2 20.2 32.5 22.0 C32.8 23.8 31.9 26.0 31.0 28.0 C30.1 30.0 29.0 32.2 27.0 34.0 C25.0 35.8 22.2 37.4 19.0 39.0 C15.8 40.6 11.0 42.6 8.0 43.5 C5.0 44.4 2.0 44.9 1.0 44.5 C0.0 44.1 0.5 41.9 2.0 41.0 C3.5 40.1 7.3 40.0 10.0 39.0 C12.7 38.0 15.7 36.5 18.0 35.0 C20.3 33.5 22.5 31.8 24.0 30.0 C25.5 28.2 26.7 26.0 27.0 24.0 C27.3 22.0 26.5 19.7 26.0 18.0 C25.5 16.3 23.5 14.2 24.0 14.0 Z" fill="#1fcf8f"/>
<path d="M-50.3 -4.4 C-50.1 -8.3 -49.0 -11.2 -47.7 -14.4 C-46.4 -17.6 -44.5 -20.9 -42.5 -23.5 C-40.5 -26.1 -38.4 -28.2 -36.0 -30.0 C-33.6 -31.8 -31.1 -33.2 -28.3 -34.5 C-25.5 -35.8 -22.2 -37.0 -19.2 -37.7 C-16.2 -38.5 -13.1 -38.7 -10.1 -39.0 C-7.1 -39.3 -2.8 -40.1 -1.0 -39.7 C0.8 -39.3 -0.6 -37.0 1.0 -36.4 C2.6 -35.8 6.0 -36.1 8.8 -35.8 C11.6 -35.5 15.1 -35.0 17.9 -34.5 C20.7 -34.0 23.5 -33.7 25.6 -32.5 C27.8 -31.3 29.3 -29.2 30.8 -27.3 C32.3 -25.4 33.6 -23.3 34.7 -20.9 C35.8 -18.5 36.4 -15.7 37.3 -13.1 C38.2 -10.5 39.2 -7.7 39.9 -5.3 C40.5 -2.9 41.2 -1.4 41.2 1.2 C41.2 3.8 41.2 8.0 40.0 10.0 C38.8 12.0 35.7 11.7 34.0 13.0 C32.3 14.3 31.0 16.0 30.0 18.0 C29.0 20.0 29.0 22.8 28.0 25.0 C27.0 27.2 26.0 29.2 24.0 31.0 C22.0 32.8 19.0 34.5 16.0 36.0 C13.0 37.5 8.6 39.0 6.0 40.0 C3.4 41.0 2.9 41.3 0.5 42.0 C-1.9 42.7 -5.0 44.4 -8.5 44.4 C-12.0 44.4 -16.8 43.5 -20.5 42.1 C-24.2 40.7 -27.5 39.1 -31.0 36.1 C-34.5 33.1 -38.4 28.6 -41.4 24.1 C-44.4 19.6 -47.4 13.9 -48.9 9.2 C-50.4 4.4 -50.5 -0.5 -50.3 -4.4 Z" fill="#e8de32"/>
<path d="M-46.0 0.0 C-46.0 -3.7 -45.0 -8.7 -44.0 -12.0 C-43.0 -15.3 -41.4 -17.8 -40.0 -20.0 C-38.6 -22.2 -37.2 -23.6 -35.4 -25.3 C-33.6 -27.0 -31.0 -28.5 -29.0 -30.0 C-27.0 -31.5 -25.8 -33.5 -23.5 -34.5 C-21.2 -35.5 -17.5 -35.7 -15.0 -36.0 C-12.5 -36.3 -11.0 -36.6 -8.5 -36.5 C-6.0 -36.4 -2.4 -36.4 0.0 -35.5 C2.4 -34.6 4.3 -31.6 6.2 -31.2 C8.1 -30.8 9.5 -33.0 11.4 -33.2 C13.3 -33.4 15.7 -33.0 17.9 -32.5 C20.0 -31.9 22.6 -31.2 24.3 -29.9 C26.0 -28.6 27.1 -26.9 28.2 -24.8 C29.3 -22.7 29.9 -19.8 30.8 -17.0 C31.7 -14.2 32.8 -10.9 33.4 -7.9 C34.0 -4.9 34.3 -1.4 34.7 1.2 C35.1 3.8 36.5 6.2 36.0 8.0 C35.5 9.8 33.5 10.7 32.0 12.0 C30.5 13.3 28.7 14.0 27.0 16.0 C25.3 18.0 23.5 21.7 22.0 24.0 C20.5 26.3 20.0 28.0 18.0 30.0 C16.0 32.0 13.0 34.5 10.0 36.0 C7.0 37.5 3.0 38.4 0.0 39.0 C-3.0 39.6 -4.7 39.8 -8.0 39.5 C-11.3 39.2 -16.3 38.4 -20.0 37.0 C-23.7 35.6 -27.0 33.5 -30.0 31.0 C-33.0 28.5 -35.7 25.5 -38.0 22.0 C-40.3 18.5 -42.7 13.7 -44.0 10.0 C-45.3 6.3 -46.0 3.7 -46.0 0.0 Z" fill="#eeb338"/>
<path d="M-44.5 0.0 C-44.5 -3.7 -43.1 -8.8 -42.0 -12.0 C-40.9 -15.2 -39.5 -17.0 -38.0 -19.0 C-36.5 -21.0 -35.0 -22.3 -33.0 -24.0 C-31.0 -25.7 -28.5 -27.8 -26.0 -29.0 C-23.5 -30.2 -20.7 -30.6 -18.0 -31.0 C-15.3 -31.4 -12.7 -31.5 -10.0 -31.5 C-7.3 -31.5 -4.5 -31.3 -2.0 -31.0 C0.5 -30.7 2.7 -29.8 5.0 -29.5 C7.3 -29.2 9.7 -29.4 12.0 -29.0 C14.3 -28.6 16.8 -28.2 19.0 -27.0 C21.2 -25.8 23.2 -24.0 25.0 -22.0 C26.8 -20.0 28.7 -17.5 30.0 -15.0 C31.3 -12.5 32.3 -9.8 33.0 -7.0 C33.7 -4.2 34.2 -0.7 34.0 2.0 C33.8 4.7 33.3 7.0 32.0 9.0 C30.7 11.0 28.0 11.8 26.0 14.0 C24.0 16.2 22.0 19.3 20.0 22.0 C18.0 24.7 16.3 27.8 14.0 30.0 C11.7 32.2 8.3 33.8 6.0 35.0 C3.7 36.2 2.7 36.7 0.0 37.0 C-2.7 37.3 -6.7 37.3 -10.0 37.0 C-13.3 36.7 -16.7 36.3 -20.0 35.0 C-23.3 33.7 -27.2 31.5 -30.0 29.0 C-32.8 26.5 -35.0 23.2 -37.0 20.0 C-39.0 16.8 -40.8 13.3 -42.0 10.0 C-43.2 6.7 -44.5 3.7 -44.5 0.0 Z" fill="#f38b2c"/>
<path d="M-43.5 2.0 C-43.7 -1.0 -42.8 -5.2 -42.0 -8.0 C-41.2 -10.8 -40.2 -12.8 -39.0 -15.0 C-37.8 -17.2 -36.5 -19.3 -35.0 -21.0 C-33.5 -22.7 -32.2 -23.8 -30.0 -25.0 C-27.8 -26.2 -24.7 -27.4 -22.0 -28.0 C-19.3 -28.6 -16.7 -28.5 -14.0 -28.5 C-11.3 -28.5 -8.7 -28.4 -6.0 -28.0 C-3.3 -27.6 -0.7 -26.2 2.0 -26.0 C4.7 -25.8 7.5 -27.2 10.0 -27.0 C12.5 -26.8 14.7 -26.3 17.0 -25.0 C19.3 -23.7 22.2 -21.2 24.0 -19.0 C25.8 -16.8 26.8 -14.3 28.0 -12.0 C29.2 -9.7 30.3 -7.5 31.0 -5.0 C31.7 -2.5 32.2 0.5 32.0 3.0 C31.8 5.5 31.3 8.2 30.0 10.0 C28.7 11.8 26.0 12.0 24.0 14.0 C22.0 16.0 20.0 19.3 18.0 22.0 C16.0 24.7 14.2 28.0 12.0 30.0 C9.8 32.0 7.0 33.1 5.0 34.0 C3.0 34.9 2.5 35.3 0.0 35.5 C-2.5 35.7 -6.7 35.6 -10.0 35.0 C-13.3 34.4 -16.7 33.3 -20.0 32.0 C-23.3 30.7 -27.3 29.2 -30.0 27.0 C-32.7 24.8 -34.2 21.8 -36.0 19.0 C-37.8 16.2 -39.8 12.8 -41.0 10.0 C-42.2 7.2 -43.3 5.0 -43.5 2.0 Z" fill="#f5454a"/>
<path d="M-30.0 -29.0 C-28.8 -30.4 -26.5 -32.4 -24.0 -33.5 C-21.5 -34.6 -17.7 -35.1 -15.0 -35.5 C-12.3 -35.9 -10.5 -36.1 -8.0 -36.0 C-5.5 -35.9 -2.3 -35.8 0.0 -35.0 C2.3 -34.2 4.2 -32.2 6.0 -31.5 C7.8 -30.8 10.0 -31.6 11.0 -31.0 C12.0 -30.4 12.2 -29.2 12.0 -28.0 C11.8 -26.8 11.0 -25.3 10.0 -24.0 C9.0 -22.7 7.2 -21.0 6.0 -20.0 C4.8 -19.0 4.3 -17.8 3.0 -18.0 C1.7 -18.2 0.2 -19.8 -2.0 -21.0 C-4.2 -22.2 -7.0 -24.2 -10.0 -25.0 C-13.0 -25.8 -17.2 -26.0 -20.0 -25.5 C-22.8 -25.0 -25.2 -22.1 -27.0 -22.0 C-28.8 -21.9 -30.5 -23.8 -31.0 -25.0 C-31.5 -26.2 -31.2 -27.6 -30.0 -29.0 Z" fill="#eeb338"/>
<path d="M-26.0 -26.5 C-26.0 -27.1 -22.3 -28.3 -20.0 -29.0 C-17.7 -29.7 -14.7 -30.2 -12.0 -30.5 C-9.3 -30.8 -6.3 -30.9 -4.0 -30.5 C-1.7 -30.1 0.5 -29.1 2.0 -28.0 C3.5 -26.9 4.7 -25.5 5.0 -24.0 C5.3 -22.5 5.2 -19.5 4.0 -19.0 C2.8 -18.5 0.3 -20.0 -2.0 -21.0 C-4.3 -22.0 -7.0 -24.2 -10.0 -25.0 C-13.0 -25.8 -17.3 -25.2 -20.0 -25.5 C-22.7 -25.8 -26.0 -25.9 -26.0 -26.5 Z" fill="#e8de32"/>
<path d="M-0.5 -36.0 C0.2 -38.0 2.8 -35.0 4.0 -34.0 C5.2 -33.0 6.4 -31.7 7.0 -30.0 C7.6 -28.3 7.8 -25.8 7.5 -24.0 C7.2 -22.2 5.9 -20.0 5.0 -19.0 C4.1 -18.0 2.8 -17.5 2.0 -18.0 C1.2 -18.5 0.4 -19.0 0.0 -22.0 C-0.4 -25.0 -1.2 -34.0 -0.5 -36.0 Z" fill="#e8de32"/>
<path d="M7.0 -29.0 C7.5 -30.6 9.8 -30.7 11.0 -30.5 C12.2 -30.3 13.8 -29.4 14.0 -28.0 C14.2 -26.6 13.0 -23.2 12.0 -22.0 C11.0 -20.8 8.8 -19.8 8.0 -21.0 C7.2 -22.2 6.5 -27.4 7.0 -29.0 Z" fill="#f38b2c"/>
<path d="M-40.0 -12.0 C-40.0 -14.0 -38.2 -18.0 -37.0 -20.0 C-35.8 -22.0 -34.0 -24.0 -33.0 -24.0 C-32.0 -24.0 -30.8 -21.8 -31.0 -20.0 C-31.2 -18.2 -33.0 -15.0 -34.0 -13.0 C-35.0 -11.0 -36.0 -8.2 -37.0 -8.0 C-38.0 -7.8 -40.0 -10.0 -40.0 -12.0 Z" fill="#e5058c"/>
<path d="M-39.2 18.2 C-38.4 20.6 -35.5 25.9 -32.4 28.6 C-29.3 31.3 -24.5 33.1 -20.5 34.6 C-16.5 36.1 -12.0 37.1 -8.5 37.6 C-5.0 38.1 -1.9 37.9 0.5 37.6 C2.9 37.4 4.8 38.0 5.6 36.1 C6.4 34.2 6.4 27.5 5.6 26.0 C4.8 24.5 2.3 26.9 0.5 27.1 C-1.3 27.3 -2.5 27.5 -5.5 27.1 C-8.5 26.7 -13.8 26.0 -17.5 24.9 C-21.2 23.8 -24.8 22.1 -28.0 20.4 C-31.2 18.6 -35.1 14.8 -37.0 14.4 C-38.9 14.0 -40.0 15.8 -39.2 18.2 Z" fill="#e5058c"/>
<path d="M22.0 -17.9 C22.8 -18.6 25.7 -17.3 27.0 -16.0 C28.3 -14.7 29.1 -12.3 30.0 -10.0 C30.9 -7.7 32.0 -4.5 32.5 -2.0 C33.0 0.5 32.6 2.7 33.0 5.0 C33.4 7.3 34.3 10.1 35.0 12.0 C35.7 13.9 37.3 16.0 37.0 16.7 C36.7 17.4 34.5 17.1 33.0 16.0 C31.5 14.9 29.1 12.3 28.0 10.0 C26.9 7.7 27.2 4.7 26.5 2.0 C25.8 -0.7 24.8 -3.7 24.0 -6.0 C23.2 -8.3 22.3 -10.0 22.0 -12.0 C21.7 -14.0 21.2 -17.2 22.0 -17.9 Z" fill="#e5058c"/>
<path d="M4.0 -18.6 C4.8 -18.8 7.8 -17.5 8.6 -17.0 C9.4 -16.5 9.4 -15.8 8.6 -15.6 C7.8 -15.4 4.8 -15.5 4.0 -16.0 C3.2 -16.5 3.2 -18.4 4.0 -18.6 Z" fill="#e5058c"/>
<path d="M-6.0 -22.0 C-5.7 -23.5 -3.5 -21.8 -2.0 -21.0 C-0.5 -20.2 1.8 -18.5 3.0 -17.0 C4.2 -15.5 5.0 -13.7 5.0 -12.0 C5.0 -10.3 3.8 -7.7 3.0 -7.0 C2.2 -6.3 1.2 -7.2 0.0 -8.0 C-1.2 -8.8 -3.0 -9.7 -4.0 -12.0 C-5.0 -14.3 -6.3 -20.5 -6.0 -22.0 Z" fill="#e8de32"/>
<path d="M12.0 10.0 C12.8 8.5 17.5 7.7 20.0 8.0 C22.5 8.3 25.7 10.3 27.0 12.0 C28.3 13.7 28.8 16.7 28.0 18.0 C27.2 19.3 24.2 20.2 22.0 20.0 C19.8 19.8 16.7 18.7 15.0 17.0 C13.3 15.3 11.2 11.5 12.0 10.0 Z" fill="#e8de32"/>
<path d="M18.0 11.0 C18.8 10.3 22.5 10.3 24.0 11.0 C25.5 11.7 27.2 14.0 27.0 15.0 C26.8 16.0 24.3 17.0 23.0 17.0 C21.7 17.0 19.8 16.0 19.0 15.0 C18.2 14.0 17.2 11.7 18.0 11.0 Z" fill="#ffffff"/>
<path d="M-2.5 -23.5 C-2.2 -23.9 -0.8 -23.6 -0.5 -23.0 C-0.2 -22.4 -0.2 -20.4 -0.5 -20.0 C-0.8 -19.6 -2.2 -19.9 -2.5 -20.5 C-2.8 -21.1 -2.8 -23.1 -2.5 -23.5 Z" fill="#1fcf8f"/>
<rect x="0.3" y="20" width="1.6" height="55" fill="#fff"/>
</g></g>
<g clip-path="url(#clb)"><g transform="translate(283.6 82.8)">
<path d="M-35.8 0.2 L-35.3 -5.8 L-34.3 -10.8 L-31.8 -14.8 L-28.8 -18.8 L-25.8 -21.8 L-21.8 -23.8 L-17.8 -24.8 L-13.8 -25.3 L-9.8 -24.8 L-6.8 -23.8 L-5.8 -21.8 L-6.5 -19.5 L-6.3 -16.3 L-4.8 -12.8 L-2.8 -9.8 L0.2 -7.8 L3.2 -6.8 L4.7 -9.3 L5.2 -11.8 L5.2 -13.8 L7.2 -14.8 L10.2 -15.3 L12.2 -14.3 L16.2 -13.8 L19.2 -11.8 L21.2 -8.8 L23.2 -5.8 L25.2 -3.8 L26.4 -0.8 L26.2 1.2 L25.4 5.2 L26.4 8.2 L29.2 10.2 L31.5 12.5 L33.0 16.0 L34.7 19.2 L37.0 20.5 L35.5 21.2 L33.3 19.0 L31.3 15.0 L29.5 12.4 L27.6 11.8 L24.5 11.2 L21.3 9.9 L18.2 8.0 L14.2 8.4 L11.2 10.4 L10.2 14.2 L8.2 19.2 L5.2 23.2 L2.2 24.8 L-1.8 24.5 L-7.8 23.5 L-12.8 22.7 L-17.8 21.7 L-22.8 20.2 L-26.8 18.2 L-28.8 15.2 L-29.8 11.2 L-31.8 8.2 L-33.8 4.2 Z" fill="#e8de32"/>
<path d="M-24.1 -16.4 C-22.9 -17.4 -20.8 -19.1 -18.9 -19.5 C-17.0 -19.9 -14.4 -19.3 -12.7 -19.0 C-11.0 -18.7 -9.6 -18.6 -8.5 -17.5 C-7.5 -16.4 -7.4 -14.0 -6.4 -12.3 C-5.4 -10.6 -3.3 -8.7 -2.3 -7.1 C-1.3 -5.5 -0.5 -4.8 -0.2 -2.9 C0.1 -1.0 0.1 2.2 -0.2 4.4 C-0.5 6.7 -1.6 8.5 -2.3 10.6 C-3.0 12.7 -3.5 15.4 -4.4 16.8 C-5.3 18.2 -5.4 18.7 -7.5 18.9 C-9.6 19.1 -14.4 18.4 -16.8 17.9 C-19.2 17.4 -20.9 17.0 -22.0 15.8 C-23.1 14.6 -23.1 12.2 -23.1 10.6 C-23.1 9.0 -21.3 7.4 -22.0 6.4 C-22.7 5.4 -26.0 5.8 -27.2 4.4 C-28.4 3.0 -29.1 0.2 -29.3 -1.9 C-29.5 -4.0 -28.8 -6.2 -28.3 -8.1 C-27.8 -10.0 -26.9 -11.9 -26.2 -13.3 C-25.5 -14.7 -25.3 -15.4 -24.1 -16.4 Z" fill="#ffffff"/>
<path d="M-20.0 -5.0 C-19.2 -5.6 -15.8 -6.2 -14.0 -6.0 C-12.2 -5.8 -9.3 -4.7 -9.0 -4.0 C-8.7 -3.3 -10.3 -2.2 -12.0 -2.0 C-13.7 -1.8 -17.7 -2.0 -19.0 -2.5 C-20.3 -3.0 -20.8 -4.4 -20.0 -5.0 Z" fill="#e8de32"/>
</g></g>
<g transform="translate(284.2 82.7)">
<g fill="none" stroke="#000" stroke-width="1.3" stroke-dasharray="3.9 1.5">
<ellipse cx="0" cy="0" rx="80.3" ry="69.3"/>
<ellipse cx="0" cy="0" rx="47.6" ry="43.0"/>
<path d="M-80.3 0 H80.3 M-1.0 -69.3 V69.3"/>
</g></g>
<g transform="translate(283.6 82.8)"><use href="#land"/></g>
<g transform="translate(284.2 82.7)" stroke="#1a3f72" stroke-width="0.35">
<text x="-74.40" y="-40.00" font-size="9.30" fill="#1a3f72" textLength="19.13" lengthAdjust="spacingAndGlyphs">40 S</text>
<text x="-50.90" y="-26.80" font-size="9.30" fill="#1a3f72" textLength="19.13" lengthAdjust="spacingAndGlyphs">60 S</text>
<text x="-9.40" y="-60.40" font-size="9.30" fill="#1a3f72" textLength="15.20" lengthAdjust="spacingAndGlyphs">180</text>
<text x="-78.60" y="1.90" font-size="9.30" fill="#1a3f72" textLength="15.72" lengthAdjust="spacingAndGlyphs">90E</text>
<text x="60.20" y="2.50" font-size="9.30" fill="#1a3f72" textLength="19.89" lengthAdjust="spacingAndGlyphs">90W</text>
<text x="-3.80" y="65.20" font-size="9.00" fill="#1a3f72" textLength="5.00" lengthAdjust="spacingAndGlyphs">0</text>
</g>
</g>
<rect x="202.8" y="13.1" width="161.2" height="139.4" fill="none" stroke="#333" stroke-width="1.2"/>
<text x="203.50" y="9.50" font-size="8.40" fill="#1a1a1a" textLength="61.40" lengthAdjust="spacingAndGlyphs">(b) RSUS NoS–S</text>
<text x="303.00" y="9.50" font-size="8.40" fill="#1a1a1a" textLength="14.00" lengthAdjust="spacingAndGlyphs">DJF</text>
<rect x="374.8" y="13.10" width="7.4" height="12.72" fill="#e5058c"/>
<rect x="374.8" y="25.77" width="7.4" height="12.72" fill="#f5454a"/>
<rect x="374.8" y="38.45" width="7.4" height="12.72" fill="#f38b2c"/>
<rect x="374.8" y="51.12" width="7.4" height="12.72" fill="#eeb338"/>
<rect x="374.8" y="63.79" width="7.4" height="12.72" fill="#f0e632"/>
<rect x="374.8" y="76.46" width="7.4" height="12.72" fill="#ffffff"/>
<rect x="374.8" y="89.14" width="7.4" height="12.72" fill="#1fcf8f"/>
<rect x="374.8" y="101.81" width="7.4" height="12.72" fill="#1dc8c6"/>
<rect x="374.8" y="114.48" width="7.4" height="12.72" fill="#16a2f0"/>
<rect x="374.8" y="127.15" width="7.4" height="12.72" fill="#2a45f0"/>
<rect x="374.8" y="139.83" width="7.4" height="12.72" fill="#8316e3"/>
<g stroke="#222" stroke-width="0.9" fill="none">
<rect x="374.8" y="13.10" width="7.4" height="139.40"/>
<path d="M374.8 25.77 h7.4"/>
<path d="M374.8 38.45 h7.4"/>
<path d="M374.8 51.12 h7.4"/>
<path d="M374.8 63.79 h7.4"/>
<path d="M374.8 76.46 h7.4"/>
<path d="M374.8 89.14 h7.4"/>
<path d="M374.8 101.81 h7.4"/>
<path d="M374.8 114.48 h7.4"/>
<path d="M374.8 127.15 h7.4"/>
<path d="M374.8 139.83 h7.4"/>
</g>
<text x="384.10" y="28.87" font-size="8.60" fill="#1a1a1a" textLength="8.61" lengthAdjust="spacingAndGlyphs">25</text>
<text x="384.10" y="41.55" font-size="8.60" fill="#1a1a1a" textLength="8.61" lengthAdjust="spacingAndGlyphs">20</text>
<text x="384.10" y="54.22" font-size="8.60" fill="#1a1a1a" textLength="8.61" lengthAdjust="spacingAndGlyphs">15</text>
<text x="384.10" y="66.89" font-size="8.60" fill="#1a1a1a" textLength="8.61" lengthAdjust="spacingAndGlyphs">10</text>
<text x="384.10" y="79.56" font-size="8.60" fill="#1a1a1a" textLength="4.30" lengthAdjust="spacingAndGlyphs">2</text>
<text x="384.10" y="92.24" font-size="8.60" fill="#1a1a1a" textLength="8.61" lengthAdjust="spacingAndGlyphs">–2</text>
<text x="384.10" y="104.91" font-size="8.60" fill="#1a1a1a" textLength="12.91" lengthAdjust="spacingAndGlyphs">–10</text>
<text x="384.10" y="117.58" font-size="8.60" fill="#1a1a1a" textLength="12.91" lengthAdjust="spacingAndGlyphs">–15</text>
<text x="384.10" y="130.25" font-size="8.60" fill="#1a1a1a" textLength="12.91" lengthAdjust="spacingAndGlyphs">–20</text>
<text x="384.10" y="142.93" font-size="8.60" fill="#1a1a1a" textLength="12.91" lengthAdjust="spacingAndGlyphs">–25</text>
<text x="371.00" y="8.50" font-size="8.2" fill="#1a1a1a" textLength="24.6" lengthAdjust="spacingAndGlyphs">(W/m<tspan font-size="5.5" dy="-3">2</tspan><tspan dy="3">)</tspan></text>
<rect x="1.2" y="186.3" width="161.2" height="139.4" fill="#fff"/>
<g clip-path="url(#cbc)">
<g clip-path="url(#cec)">
<ellipse cx="81.6" cy="255.9" rx="80.3" ry="69.3" fill="#ffffff"/>
<g transform="translate(81.6 256.0)">
<path d="M-56.0 0.0 C-55.8 -4.7 -55.5 -14.1 -54.8 -20.1 C-54.1 -26.1 -53.4 -32.8 -51.9 -36.1 C-50.4 -39.4 -48.6 -38.8 -45.9 -40.1 C-43.2 -41.4 -39.6 -43.3 -35.9 -44.1 C-32.2 -44.9 -27.6 -44.9 -23.9 -45.1 C-20.2 -45.3 -17.2 -44.6 -13.9 -45.1 C-10.6 -45.6 -6.2 -47.4 -3.9 -48.0 C-1.5 -48.6 -1.9 -48.2 0.2 -48.5 C2.3 -48.8 6.0 -50.5 8.4 -49.6 C10.8 -48.8 11.8 -45.1 14.5 -43.4 C17.2 -41.7 21.3 -41.0 24.7 -39.3 C28.1 -37.6 32.3 -35.6 35.0 -33.2 C37.7 -30.8 39.4 -27.7 41.1 -25.0 C42.8 -22.3 43.8 -18.5 45.2 -16.8 C46.6 -15.1 47.9 -16.2 49.3 -14.8 C50.7 -13.5 52.9 -11.2 53.4 -8.7 C53.9 -6.2 52.5 -2.5 52.5 0.0 C52.5 2.5 53.6 3.7 53.4 6.1 C53.2 8.5 52.3 11.6 51.3 14.3 C50.3 17.0 48.9 19.8 47.2 22.5 C45.5 25.2 43.5 28.3 41.1 30.7 C38.7 33.1 35.3 35.1 32.9 36.8 C30.5 38.5 28.9 39.9 26.8 40.9 C24.8 41.9 22.7 41.9 20.6 42.9 C18.6 43.9 15.8 45.3 14.5 47.0 C13.2 48.7 14.9 51.8 12.5 53.2 C10.1 54.6 2.6 55.1 0.2 55.2 C-2.2 55.3 -0.3 54.8 -2.0 53.9 C-3.7 53.0 -6.9 50.9 -9.9 49.9 C-12.9 48.9 -16.6 48.9 -19.9 47.9 C-23.2 46.9 -26.6 46.2 -29.9 43.9 C-33.2 41.6 -36.6 37.9 -39.9 33.9 C-43.2 29.9 -47.2 24.3 -49.9 20.0 C-52.6 15.7 -54.9 11.3 -55.9 8.0 C-56.9 4.7 -56.2 4.7 -56.0 0.0 Z" fill="#1fcf8f"/>
<path d="M36.0 -47.0 C36.2 -48.9 38.5 -49.8 40.0 -49.6 C41.5 -49.4 43.8 -47.6 45.0 -46.0 C46.2 -44.4 47.2 -41.7 47.0 -40.0 C46.8 -38.3 45.3 -36.3 44.0 -36.0 C42.7 -35.7 40.3 -36.2 39.0 -38.0 C37.7 -39.8 35.8 -45.1 36.0 -47.0 Z" fill="#1fcf8f"/>
<path d="M64.0 -44.0 C64.3 -44.7 66.0 -43.5 67.0 -42.0 C68.0 -40.5 69.8 -36.5 70.0 -35.0 C70.2 -33.5 68.8 -32.5 68.0 -33.0 C67.2 -33.5 65.7 -36.2 65.0 -38.0 C64.3 -39.8 63.7 -43.3 64.0 -44.0 Z" fill="#1fcf8f"/>
<path d="M-42.6 5.1 C-43.1 2.0 -42.4 -0.5 -41.9 -3.3 C-41.4 -6.1 -40.8 -9.1 -39.8 -11.7 C-38.8 -14.3 -37.2 -16.6 -35.6 -18.7 C-34.0 -20.8 -32.2 -22.8 -30.1 -24.2 C-28.0 -25.6 -25.7 -26.4 -23.1 -27.0 C-20.5 -27.6 -17.3 -27.7 -14.7 -27.7 C-12.1 -27.7 -10.0 -27.6 -7.7 -27.0 C-5.4 -26.4 -3.1 -24.1 -1.0 -24.2 C1.1 -24.3 2.3 -27.0 4.6 -27.7 C6.9 -28.4 10.4 -28.8 13.0 -28.4 C15.6 -28.0 17.8 -26.8 19.9 -25.6 C22.0 -24.4 23.9 -23.2 25.5 -21.4 C27.1 -19.5 28.5 -16.8 29.7 -14.5 C30.9 -12.2 31.8 -10.1 32.5 -7.5 C33.2 -4.9 33.7 -1.9 33.9 0.9 C34.1 3.6 34.5 6.5 33.9 9.0 C33.2 11.5 31.5 13.8 30.0 16.0 C28.5 18.2 27.6 20.1 24.7 22.5 C21.8 24.9 16.6 28.5 12.5 30.7 C8.4 32.9 3.0 35.1 0.2 35.8 C-2.5 36.5 -0.7 35.5 -4.0 34.9 C-7.3 34.2 -15.2 33.4 -19.9 31.9 C-24.5 30.4 -28.7 28.7 -31.9 25.9 C-35.1 23.1 -37.2 18.5 -39.0 15.0 C-40.8 11.5 -42.1 8.2 -42.6 5.1 Z" fill="#1dc8c6"/>
<path d="M-33.0 14.0 C-33.5 14.7 -33.1 16.6 -31.9 18.0 C-30.7 19.4 -28.0 21.2 -26.0 22.5 C-24.0 23.8 -22.6 25.0 -19.9 25.9 C-17.2 26.8 -13.0 27.5 -10.0 28.0 C-7.0 28.5 -4.7 29.0 -2.0 28.9 C0.7 28.8 4.7 28.6 6.0 27.5 C7.3 26.4 7.3 22.7 6.0 22.0 C4.7 21.3 0.7 23.3 -2.0 23.5 C-4.7 23.7 -7.3 23.3 -10.0 23.0 C-12.7 22.7 -15.5 22.2 -18.0 21.5 C-20.5 20.8 -23.2 19.8 -25.0 18.5 C-26.8 17.2 -27.7 14.8 -29.0 14.0 C-30.3 13.2 -32.5 13.3 -33.0 14.0 Z" fill="#16a2f0"/>
<path d="M-1.0 -19.0 C-0.5 -20.0 1.5 -20.8 3.0 -21.0 C4.5 -21.2 7.0 -20.8 8.0 -20.0 C9.0 -19.2 9.7 -16.8 9.0 -16.0 C8.3 -15.2 5.5 -15.2 4.0 -15.0 C2.5 -14.8 0.8 -14.3 0.0 -15.0 C-0.8 -15.7 -1.5 -18.0 -1.0 -19.0 Z" fill="#16a2f0"/>
<path d="M-36.0 -14.0 C-35.8 -15.3 -34.3 -17.7 -33.0 -19.0 C-31.7 -20.3 -29.2 -21.8 -28.0 -22.0 C-26.8 -22.2 -25.5 -21.0 -26.0 -20.0 C-26.5 -19.0 -29.7 -17.5 -31.0 -16.0 C-32.3 -14.5 -33.2 -11.3 -34.0 -11.0 C-34.8 -10.7 -36.2 -12.7 -36.0 -14.0 Z" fill="#16a2f0"/>
<path d="M22.0 -10.0 C22.0 -11.2 24.4 -11.7 25.5 -11.0 C26.6 -10.3 28.1 -7.5 28.5 -6.0 C28.9 -4.5 28.5 -2.3 28.0 -2.0 C27.5 -1.7 26.5 -2.7 25.5 -4.0 C24.5 -5.3 22.0 -8.8 22.0 -10.0 Z" fill="#16a2f0"/>
<path d="M-82.0 -6.0 C-81.5 -9.2 -78.1 -5.7 -77.0 -4.0 C-75.9 -2.3 -75.7 1.3 -75.5 4.0 C-75.3 6.7 -75.2 10.2 -76.0 12.0 C-76.8 13.8 -79.0 18.0 -80.0 15.0 C-81.0 12.0 -82.5 -2.8 -82.0 -6.0 Z" fill="#e8de32"/>
<path d="M56.0 28.0 C57.0 26.6 59.7 26.6 62.0 26.6 C64.3 26.6 68.4 27.1 70.0 28.0 C71.6 28.9 72.5 30.7 71.8 32.0 C71.1 33.3 68.0 34.9 66.0 36.0 C64.0 37.1 61.7 39.1 60.0 38.9 C58.3 38.7 56.7 36.8 56.0 35.0 C55.3 33.2 55.0 29.4 56.0 28.0 Z" fill="#e8de32"/>
<rect x="0.3" y="20" width="1.6" height="55" fill="#fff"/>
</g></g>
<g clip-path="url(#clc)"><g transform="translate(81.6 256.0)">
<path d="M-35.8 0.2 L-35.3 -5.8 L-34.3 -10.8 L-31.8 -14.8 L-28.8 -18.8 L-25.8 -21.8 L-21.8 -23.8 L-17.8 -24.8 L-13.8 -25.3 L-9.8 -24.8 L-6.8 -23.8 L-5.8 -21.8 L-6.5 -19.5 L-6.3 -16.3 L-4.8 -12.8 L-2.8 -9.8 L0.2 -7.8 L3.2 -6.8 L4.7 -9.3 L5.2 -11.8 L5.2 -13.8 L7.2 -14.8 L10.2 -15.3 L12.2 -14.3 L16.2 -13.8 L19.2 -11.8 L21.2 -8.8 L23.2 -5.8 L25.2 -3.8 L26.4 -0.8 L26.2 1.2 L25.4 5.2 L26.4 8.2 L29.2 10.2 L31.5 12.5 L33.0 16.0 L34.7 19.2 L37.0 20.5 L35.5 21.2 L33.3 19.0 L31.3 15.0 L29.5 12.4 L27.6 11.8 L24.5 11.2 L21.3 9.9 L18.2 8.0 L14.2 8.4 L11.2 10.4 L10.2 14.2 L8.2 19.2 L5.2 23.2 L2.2 24.8 L-1.8 24.5 L-7.8 23.5 L-12.8 22.7 L-17.8 21.7 L-22.8 20.2 L-26.8 18.2 L-28.8 15.2 L-29.8 11.2 L-31.8 8.2 L-33.8 4.2 Z" fill="#1fcf8f"/>
<path d="M-21.0 -15.0 C-19.7 -15.9 -17.5 -16.8 -16.0 -16.5 C-14.5 -16.2 -13.3 -15.1 -12.0 -13.5 C-10.7 -11.9 -9.4 -8.8 -8.0 -7.0 C-6.6 -5.2 -4.3 -4.2 -3.5 -3.0 C-2.7 -1.8 -2.6 -0.9 -3.0 0.0 C-3.4 0.9 -4.8 1.8 -6.0 2.5 C-7.2 3.2 -9.1 2.7 -10.0 4.0 C-10.9 5.3 -10.6 8.8 -11.5 10.5 C-12.4 12.2 -13.8 13.6 -15.5 14.0 C-17.2 14.4 -20.0 14.2 -21.5 13.0 C-23.0 11.8 -23.8 9.0 -24.5 7.0 C-25.2 5.0 -25.4 3.0 -25.8 1.0 C-26.2 -1.0 -27.1 -3.0 -26.8 -5.0 C-26.5 -7.0 -25.0 -9.3 -24.0 -11.0 C-23.0 -12.7 -22.3 -14.1 -21.0 -15.0 Z" fill="#ffffff"/>
<path d="M-4.0 22.0 C-3.0 21.3 0.0 21.8 2.0 21.0 C4.0 20.2 6.7 16.8 8.0 17.0 C9.3 17.2 10.7 20.7 10.0 22.0 C9.3 23.3 6.3 24.5 4.0 25.0 C1.7 25.5 -2.7 25.5 -4.0 25.0 C-5.3 24.5 -5.0 22.7 -4.0 22.0 Z" fill="#1dc8c6"/>
</g></g>
<g transform="translate(81.6 255.9)">
<g fill="none" stroke="#000" stroke-width="1.3" stroke-dasharray="3.9 1.5">
<ellipse cx="0" cy="0" rx="80.3" ry="69.3"/>
<ellipse cx="0" cy="0" rx="47.6" ry="43.0"/>
<path d="M-80.3 0 H80.3 M-1.0 -69.3 V69.3"/>
</g></g>
<g transform="translate(81.6 256.0)"><use href="#land"/></g>
<g transform="translate(81.6 255.9)" stroke="#1a3f72" stroke-width="0.35">
<text x="-74.40" y="-40.00" font-size="9.30" fill="#1a3f72" textLength="19.13" lengthAdjust="spacingAndGlyphs">40 S</text>
<text x="-50.90" y="-26.80" font-size="9.30" fill="#1a3f72" textLength="19.13" lengthAdjust="spacingAndGlyphs">60 S</text>
<text x="-9.40" y="-60.40" font-size="9.30" fill="#1a3f72" textLength="15.20" lengthAdjust="spacingAndGlyphs">180</text>
<text x="-78.60" y="1.90" font-size="9.30" fill="#1a3f72" textLength="15.72" lengthAdjust="spacingAndGlyphs">90E</text>
<text x="60.20" y="2.50" font-size="9.30" fill="#1a3f72" textLength="19.89" lengthAdjust="spacingAndGlyphs">90W</text>
<text x="-3.80" y="65.20" font-size="9.00" fill="#1a3f72" textLength="5.00" lengthAdjust="spacingAndGlyphs">0</text>
</g>
</g>
<rect x="1.2" y="186.3" width="161.2" height="139.4" fill="none" stroke="#333" stroke-width="1.2"/>
<text x="2.00" y="182.70" font-size="8.40" fill="#1a1a1a" textLength="60.70" lengthAdjust="spacingAndGlyphs">(c) RLDS NoS–S</text>
<text x="77.00" y="182.70" font-size="8.40" fill="#1a1a1a" textLength="13.60" lengthAdjust="spacingAndGlyphs">DJF</text>
<rect x="173.2" y="186.30" width="7.4" height="12.72" fill="#e5058c"/>
<rect x="173.2" y="198.97" width="7.4" height="12.72" fill="#f5454a"/>
<rect x="173.2" y="211.65" width="7.4" height="12.72" fill="#f38b2c"/>
<rect x="173.2" y="224.32" width="7.4" height="12.72" fill="#eeb338"/>
<rect x="173.2" y="236.99" width="7.4" height="12.72" fill="#f0e632"/>
<rect x="173.2" y="249.66" width="7.4" height="12.72" fill="#ffffff"/>
<rect x="173.2" y="262.34" width="7.4" height="12.72" fill="#1fcf8f"/>
<rect x="173.2" y="275.01" width="7.4" height="12.72" fill="#1dc8c6"/>
<rect x="173.2" y="287.68" width="7.4" height="12.72" fill="#16a2f0"/>
<rect x="173.2" y="300.35" width="7.4" height="12.72" fill="#2a45f0"/>
<rect x="173.2" y="313.03" width="7.4" height="12.72" fill="#8316e3"/>
<g stroke="#222" stroke-width="0.9" fill="none">
<rect x="173.2" y="186.30" width="7.4" height="139.40"/>
<path d="M173.2 198.97 h7.4"/>
<path d="M173.2 211.65 h7.4"/>
<path d="M173.2 224.32 h7.4"/>
<path d="M173.2 236.99 h7.4"/>
<path d="M173.2 249.66 h7.4"/>
<path d="M173.2 262.34 h7.4"/>
<path d="M173.2 275.01 h7.4"/>
<path d="M173.2 287.68 h7.4"/>
<path d="M173.2 300.35 h7.4"/>
<path d="M173.2 313.03 h7.4"/>
</g>
<text x="182.50" y="202.07" font-size="8.60" fill="#1a1a1a" textLength="8.61" lengthAdjust="spacingAndGlyphs">25</text>
<text x="182.50" y="214.75" font-size="8.60" fill="#1a1a1a" textLength="8.61" lengthAdjust="spacingAndGlyphs">20</text>
<text x="182.50" y="227.42" font-size="8.60" fill="#1a1a1a" textLength="8.61" lengthAdjust="spacingAndGlyphs">15</text>
<text x="182.50" y="240.09" font-size="8.60" fill="#1a1a1a" textLength="8.61" lengthAdjust="spacingAndGlyphs">10</text>
<text x="182.50" y="265.44" font-size="8.60" fill="#1a1a1a" textLength="8.61" lengthAdjust="spacingAndGlyphs">–2</text>
<text x="182.50" y="278.11" font-size="8.60" fill="#1a1a1a" textLength="12.91" lengthAdjust="spacingAndGlyphs">–10</text>
<text x="182.50" y="290.78" font-size="8.60" fill="#1a1a1a" textLength="12.91" lengthAdjust="spacingAndGlyphs">–15</text>
<text x="182.50" y="303.45" font-size="8.60" fill="#1a1a1a" textLength="12.91" lengthAdjust="spacingAndGlyphs">–20</text>
<text x="182.50" y="316.13" font-size="8.60" fill="#1a1a1a" textLength="12.91" lengthAdjust="spacingAndGlyphs">–25</text>
<text x="169.50" y="181.50" font-size="8.2" fill="#1a1a1a" textLength="24.6" lengthAdjust="spacingAndGlyphs">(W/m<tspan font-size="5.5" dy="-3">2</tspan><tspan dy="3">)</tspan></text>
<rect x="202.8" y="186.3" width="161.2" height="139.4" fill="#fff"/>
<g clip-path="url(#cbd)">
<g clip-path="url(#ced)">
<ellipse cx="284.2" cy="254.0" rx="80.3" ry="69.3" fill="#ffffff"/>
<g transform="translate(283.4 256.0)">
<path d="M-45.0 -57.9 C-45.0 -59.1 -42.5 -59.7 -40.0 -60.9 C-37.5 -62.1 -33.3 -63.8 -29.9 -65.0 C-26.5 -66.2 -22.5 -67.2 -19.8 -68.0 C-17.1 -68.8 -15.3 -69.5 -13.7 -69.5 C-12.1 -69.5 -10.0 -68.9 -10.0 -68.0 C-10.0 -67.1 -11.4 -64.9 -13.7 -63.9 C-16.0 -62.9 -20.4 -62.9 -23.8 -61.9 C-27.2 -60.9 -31.2 -59.2 -33.9 -57.9 C-36.6 -56.5 -38.1 -53.8 -40.0 -53.8 C-41.9 -53.8 -45.0 -56.7 -45.0 -57.9 Z" fill="#e8de32"/>
<path d="M-82.0 -23.5 C-80.8 -31.8 -76.6 -21.9 -75.0 -20.0 C-73.4 -18.1 -72.8 -14.7 -72.3 -12.0 C-71.8 -9.3 -73.0 -6.0 -72.0 -4.0 C-71.0 -2.0 -67.6 -2.0 -66.3 0.0 C-65.0 2.0 -63.9 4.7 -64.2 8.1 C-64.5 11.5 -67.3 16.8 -68.3 20.2 C-69.3 23.6 -69.0 26.3 -70.3 28.3 C-71.6 30.3 -74.0 31.7 -76.0 32.0 C-78.0 32.3 -81.0 39.2 -82.0 30.0 C-83.0 20.8 -83.2 -15.2 -82.0 -23.5 Z" fill="#e8de32"/>
<path d="M-61.5 8.0 C-61.1 7.6 -59.4 7.6 -59.0 8.0 C-58.6 8.4 -58.6 10.1 -59.0 10.5 C-59.4 10.9 -61.1 10.9 -61.5 10.5 C-61.9 10.1 -61.9 8.4 -61.5 8.0 Z" fill="#e8de32"/>
<path d="M-27.9 60.0 C-26.6 58.1 -22.2 59.4 -20.0 58.6 C-17.8 57.8 -15.6 56.4 -14.5 55.0 C-13.4 53.6 -14.0 50.5 -13.7 50.5 C-13.4 50.5 -13.8 53.6 -12.5 55.0 C-11.2 56.4 -7.8 57.8 -6.0 58.6 C-4.2 59.4 -2.3 58.1 -1.6 60.0 C-0.9 61.9 2.8 68.3 -1.6 70.0 C-6.0 71.7 -23.6 71.7 -28.0 70.0 C-32.4 68.3 -29.2 61.9 -27.9 60.0 Z" fill="#e8de32"/>
<path d="M-0.4 58.0 C0.5 55.9 3.3 56.8 5.0 57.3 C6.7 57.8 9.1 58.9 9.8 61.0 C10.5 63.1 10.7 68.5 9.0 70.0 C7.3 71.5 1.2 72.0 -0.4 70.0 C-2.0 68.0 -1.3 60.1 -0.4 58.0 Z" fill="#e8de32"/>
<path d="M14.9 -51.6 C15.9 -53.3 19.5 -54.3 22.1 -53.6 C24.7 -52.9 27.9 -49.2 30.3 -47.5 C32.7 -45.8 35.7 -44.8 36.4 -43.4 C37.1 -42.0 36.1 -39.6 34.4 -39.3 C32.7 -39.0 29.3 -40.7 26.2 -41.4 C23.1 -42.1 17.9 -41.7 16.0 -43.4 C14.1 -45.1 13.9 -49.9 14.9 -51.6 Z" fill="#e8de32"/>
<path d="M26.2 -37.0 C26.7 -37.9 30.6 -38.0 32.0 -37.3 C33.4 -36.6 34.9 -33.9 34.4 -33.0 C33.9 -32.1 30.4 -31.5 29.0 -32.2 C27.6 -32.9 25.7 -36.1 26.2 -37.0 Z" fill="#e8de32"/>
<path d="M65.0 -25.0 C66.0 -26.7 69.5 -24.8 72.0 -24.0 C74.5 -23.2 78.7 -22.6 80.0 -20.0 C81.3 -17.4 81.3 -10.5 80.0 -8.7 C78.7 -6.9 74.3 -8.1 72.0 -9.0 C69.7 -9.9 67.2 -11.3 66.0 -14.0 C64.8 -16.7 64.0 -23.3 65.0 -25.0 Z" fill="#e8de32"/>
<path d="M-0.4 -59.8 C0.2 -60.1 3.0 -58.7 3.7 -58.0 C4.4 -57.3 4.3 -56.0 3.7 -55.7 C3.1 -55.4 0.7 -55.3 0.0 -56.0 C-0.7 -56.7 -1.0 -59.5 -0.4 -59.8 Z" fill="#e8de32"/>
<path d="M5.7 42.0 C7.0 40.6 10.9 39.2 14.0 38.9 C17.1 38.6 20.7 39.5 24.0 40.0 C27.3 40.5 31.2 41.0 34.0 42.0 C36.8 43.0 40.8 44.5 40.5 46.0 C40.2 47.5 35.4 50.8 32.0 51.1 C28.6 51.4 23.7 48.0 20.0 48.0 C16.3 48.0 12.3 51.2 10.0 51.0 C7.7 50.8 6.7 48.5 6.0 47.0 C5.3 45.5 4.4 43.4 5.7 42.0 Z" fill="#e8de32"/>
<path d="M26.2 22.5 C26.9 21.5 29.6 22.2 31.0 23.0 C32.4 23.8 34.4 25.7 34.4 27.0 C34.4 28.3 32.2 30.4 31.0 30.7 C29.8 31.0 27.8 30.4 27.0 29.0 C26.2 27.6 25.5 23.5 26.2 22.5 Z" fill="#e8de32"/>
<path d="M54.8 32.0 C55.5 30.9 58.0 30.7 60.0 30.7 C62.0 30.7 65.5 31.1 67.0 32.0 C68.5 32.9 69.9 34.9 69.1 36.0 C68.3 37.1 64.2 38.7 62.0 38.9 C59.8 39.1 57.2 38.1 56.0 37.0 C54.8 35.9 54.1 33.0 54.8 32.0 Z" fill="#e8de32"/>
<path d="M61.0 0.0 C62.3 -1.0 67.3 -0.3 70.0 0.0 C72.7 0.3 76.3 -0.1 77.3 2.0 C78.3 4.1 77.5 10.8 76.0 12.3 C74.5 13.8 70.3 12.1 68.0 11.0 C65.7 9.9 63.2 7.8 62.0 6.0 C60.8 4.2 59.7 1.0 61.0 0.0 Z" fill="#e8de32"/>
<path d="M63.0 13.0 C63.7 12.7 67.8 13.3 70.0 13.5 C72.2 13.7 75.3 13.6 76.0 14.0 C76.7 14.4 75.7 15.8 74.0 16.0 C72.3 16.2 67.8 16.0 66.0 15.5 C64.2 15.0 62.3 13.3 63.0 13.0 Z" fill="#e8de32"/>
<path d="M-50.1 0.0 C-49.5 -1.2 -52.1 -7.8 -52.1 -11.4 C-52.1 -15.0 -51.5 -18.5 -50.1 -21.5 C-48.8 -24.5 -46.4 -26.9 -44.0 -29.6 C-41.6 -32.3 -38.7 -35.4 -36.0 -37.7 C-33.3 -40.1 -30.6 -42.7 -27.9 -43.7 C-25.2 -44.7 -22.5 -44.0 -19.8 -43.7 C-17.1 -43.4 -14.4 -41.5 -11.7 -41.7 C-9.0 -41.9 -5.7 -44.4 -3.6 -44.7 C-1.6 -45.0 -0.2 -45.2 0.6 -43.7 C1.4 -42.2 1.0 -39.0 1.0 -36.0 C1.0 -33.0 0.2 -28.2 0.5 -26.0 C0.8 -23.8 0.8 -22.5 2.5 -23.0 C4.2 -23.5 7.8 -27.8 10.5 -29.0 C13.2 -30.2 16.2 -30.3 18.5 -30.0 C20.8 -29.7 22.5 -28.8 24.5 -27.0 C26.5 -25.2 29.0 -22.0 30.5 -19.0 C32.0 -16.0 32.8 -12.2 33.4 -9.0 C34.0 -5.8 33.5 -2.2 34.4 0.0 C35.2 2.2 37.1 2.6 38.5 4.0 C39.9 5.4 42.2 6.1 42.5 8.2 C42.8 10.3 41.9 14.4 40.5 16.4 C39.1 18.4 35.7 19.0 34.0 20.0 C32.3 21.0 32.6 20.9 30.3 22.5 C28.0 24.1 23.2 27.7 20.1 29.5 C17.0 31.3 15.3 32.4 11.9 33.5 C8.5 34.6 3.2 35.7 -0.4 36.0 C-4.0 36.3 -6.5 36.2 -9.7 35.5 C-12.9 34.8 -16.4 33.4 -19.8 32.0 C-23.2 30.6 -26.5 29.1 -29.9 27.0 C-33.3 24.9 -37.0 22.0 -40.0 19.5 C-43.0 17.0 -45.4 14.3 -48.1 12.1 C-50.8 9.9 -54.5 8.1 -56.2 6.1 C-57.9 4.1 -58.2 1.7 -58.2 0.0 C-58.2 -1.7 -57.4 -4.0 -56.0 -4.0 C-54.6 -4.0 -50.8 1.2 -50.1 0.0 Z" fill="#1fcf8f"/>
<path d="M-44.0 5.0 C-43.8 4.2 -41.7 3.8 -40.0 4.0 C-38.3 4.2 -34.8 5.2 -34.0 6.0 C-33.2 6.8 -33.8 8.5 -35.0 9.0 C-36.2 9.5 -39.5 9.7 -41.0 9.0 C-42.5 8.3 -44.2 5.8 -44.0 5.0 Z" fill="#ffffff"/>
<path d="M-25.0 -31.5 C-23.8 -32.6 -20.1 -33.3 -17.5 -33.5 C-14.9 -33.7 -11.5 -32.2 -9.5 -32.5 C-7.5 -32.8 -6.8 -34.8 -5.5 -35.0 C-4.2 -35.2 -2.3 -35.3 -1.5 -34.0 C-0.7 -32.7 0.6 -28.5 -0.5 -27.0 C-1.6 -25.5 -5.1 -25.3 -8.0 -25.0 C-10.9 -24.7 -15.2 -24.7 -18.0 -25.0 C-20.8 -25.3 -23.8 -25.9 -25.0 -27.0 C-26.2 -28.1 -26.2 -30.4 -25.0 -31.5 Z" fill="#ffffff"/>
<path d="M20.0 18.3 C21.3 17.3 25.7 16.9 28.0 17.0 C30.3 17.1 32.7 17.8 34.0 19.0 C35.3 20.2 36.5 22.4 36.0 24.0 C35.5 25.6 33.0 28.0 31.0 28.5 C29.0 29.0 25.8 27.9 24.0 27.0 C22.2 26.1 20.7 24.4 20.0 23.0 C19.3 21.6 18.7 19.3 20.0 18.3 Z" fill="#ffffff"/>
<path d="M-24.0 22.5 C-22.3 22.7 -17.4 24.4 -14.0 25.0 C-10.6 25.6 -5.3 25.6 -3.6 26.0 C-1.9 26.4 -1.9 27.4 -3.6 27.5 C-5.3 27.6 -10.6 27.4 -14.0 26.8 C-17.4 26.2 -22.3 24.7 -24.0 24.0 C-25.7 23.3 -25.7 22.3 -24.0 22.5 Z" fill="#16a2f0"/>
</g></g>
<g clip-path="url(#cld)"><g transform="translate(283.4 256.0)">
<path d="M-35.8 0.2 L-35.3 -5.8 L-34.3 -10.8 L-31.8 -14.8 L-28.8 -18.8 L-25.8 -21.8 L-21.8 -23.8 L-17.8 -24.8 L-13.8 -25.3 L-9.8 -24.8 L-6.8 -23.8 L-5.8 -21.8 L-6.5 -19.5 L-6.3 -16.3 L-4.8 -12.8 L-2.8 -9.8 L0.2 -7.8 L3.2 -6.8 L4.7 -9.3 L5.2 -11.8 L5.2 -13.8 L7.2 -14.8 L10.2 -15.3 L12.2 -14.3 L16.2 -13.8 L19.2 -11.8 L21.2 -8.8 L23.2 -5.8 L25.2 -3.8 L26.4 -0.8 L26.2 1.2 L25.4 5.2 L26.4 8.2 L29.2 10.2 L31.5 12.5 L33.0 16.0 L34.7 19.2 L37.0 20.5 L35.5 21.2 L33.3 19.0 L31.3 15.0 L29.5 12.4 L27.6 11.8 L24.5 11.2 L21.3 9.9 L18.2 8.0 L14.2 8.4 L11.2 10.4 L10.2 14.2 L8.2 19.2 L5.2 23.2 L2.2 24.8 L-1.8 24.5 L-7.8 23.5 L-12.8 22.7 L-17.8 21.7 L-22.8 20.2 L-26.8 18.2 L-28.8 15.2 L-29.8 11.2 L-31.8 8.2 L-33.8 4.2 Z" fill="#ffffff"/>
<path d="M-60.0 -60.0 C-40.0 -80.0 40.0 -80.0 60.0 -60.0 C80.0 -40.0 80.0 40.0 60.0 60.0 C40.0 80.0 -40.0 80.0 -60.0 60.0 C-80.0 40.0 -80.0 -40.0 -60.0 -60.0 Z" fill="#1fcf8f"/>
<path d="M-29.4 -11.0 C-28.6 -13.7 -27.4 -15.7 -25.4 -17.0 C-23.4 -18.3 -20.0 -18.5 -17.4 -19.0 C-14.7 -19.5 -11.5 -20.5 -9.5 -20.0 C-7.5 -19.5 -6.7 -17.8 -5.5 -16.0 C-4.3 -14.2 -3.3 -11.5 -2.5 -9.0 C-1.7 -6.5 -0.8 -4.0 -0.5 -1.0 C-0.2 2.0 -0.2 5.9 -0.5 8.9 C-0.8 11.9 -0.4 15.4 -2.5 16.9 C-4.7 18.4 -9.9 18.2 -13.4 17.9 C-16.9 17.6 -20.9 16.4 -23.4 14.9 C-25.9 13.4 -27.2 11.6 -28.4 8.9 C-29.6 6.2 -30.2 2.3 -30.4 -1.0 C-30.6 -4.3 -30.2 -8.3 -29.4 -11.0 Z" fill="#ffffff"/>
</g></g>
<g transform="translate(284.2 254.0)">
<g fill="none" stroke="#000" stroke-width="1.3" stroke-dasharray="3.9 1.5">
<ellipse cx="0" cy="0" rx="80.3" ry="69.3"/>
<ellipse cx="0" cy="0" rx="47.6" ry="43.0"/>
<path d="M-80.3 0 H80.3 M-1.0 -69.3 V69.3"/>
</g></g>
<g transform="translate(283.4 256.0)"><use href="#land"/></g>
<g transform="translate(284.2 254.0)" stroke="#1a3f72" stroke-width="0.35">
<text x="-74.40" y="-40.00" font-size="9.30" fill="#1a3f72" textLength="19.13" lengthAdjust="spacingAndGlyphs">40 S</text>
<text x="-50.90" y="-26.80" font-size="9.30" fill="#1a3f72" textLength="19.13" lengthAdjust="spacingAndGlyphs">60 S</text>
<text x="-9.40" y="-60.40" font-size="9.30" fill="#1a3f72" textLength="15.20" lengthAdjust="spacingAndGlyphs">180</text>
<text x="-78.60" y="1.90" font-size="9.30" fill="#1a3f72" textLength="15.72" lengthAdjust="spacingAndGlyphs">90E</text>
<text x="60.20" y="2.50" font-size="9.30" fill="#1a3f72" textLength="19.89" lengthAdjust="spacingAndGlyphs">90W</text>
<text x="-3.80" y="65.20" font-size="9.00" fill="#1a3f72" textLength="5.00" lengthAdjust="spacingAndGlyphs">0</text>
</g>
</g>
<rect x="202.8" y="186.3" width="161.2" height="139.4" fill="none" stroke="#333" stroke-width="1.2"/>
<text x="204.00" y="182.70" font-size="8.40" fill="#1a1a1a" textLength="61.60" lengthAdjust="spacingAndGlyphs">(d) RLUS NoS–S</text>
<text x="303.00" y="182.70" font-size="8.40" fill="#1a1a1a" textLength="14.00" lengthAdjust="spacingAndGlyphs">DJF</text>
<rect x="374.8" y="186.30" width="7.4" height="12.72" fill="#e5058c"/>
<rect x="374.8" y="198.97" width="7.4" height="12.72" fill="#f5454a"/>
<rect x="374.8" y="211.65" width="7.4" height="12.72" fill="#f38b2c"/>
<rect x="374.8" y="224.32" width="7.4" height="12.72" fill="#eeb338"/>
<rect x="374.8" y="236.99" width="7.4" height="12.72" fill="#f0e632"/>
<rect x="374.8" y="249.66" width="7.4" height="12.72" fill="#ffffff"/>
<rect x="374.8" y="262.34" width="7.4" height="12.72" fill="#1fcf8f"/>
<rect x="374.8" y="275.01" width="7.4" height="12.72" fill="#1dc8c6"/>
<rect x="374.8" y="287.68" width="7.4" height="12.72" fill="#16a2f0"/>
<rect x="374.8" y="300.35" width="7.4" height="12.72" fill="#2a45f0"/>
<rect x="374.8" y="313.03" width="7.4" height="12.72" fill="#8316e3"/>
<g stroke="#222" stroke-width="0.9" fill="none">
<rect x="374.8" y="186.30" width="7.4" height="139.40"/>
<path d="M374.8 198.97 h7.4"/>
<path d="M374.8 211.65 h7.4"/>
<path d="M374.8 224.32 h7.4"/>
<path d="M374.8 236.99 h7.4"/>
<path d="M374.8 249.66 h7.4"/>
<path d="M374.8 262.34 h7.4"/>
<path d="M374.8 275.01 h7.4"/>
<path d="M374.8 287.68 h7.4"/>
<path d="M374.8 300.35 h7.4"/>
<path d="M374.8 313.03 h7.4"/>
</g>
<text x="384.10" y="202.07" font-size="8.60" fill="#1a1a1a" textLength="8.61" lengthAdjust="spacingAndGlyphs">25</text>
<text x="384.10" y="214.75" font-size="8.60" fill="#1a1a1a" textLength="8.61" lengthAdjust="spacingAndGlyphs">20</text>
<text x="384.10" y="227.42" font-size="8.60" fill="#1a1a1a" textLength="8.61" lengthAdjust="spacingAndGlyphs">15</text>
<text x="384.10" y="240.09" font-size="8.60" fill="#1a1a1a" textLength="8.61" lengthAdjust="spacingAndGlyphs">10</text>
<text x="384.10" y="252.76" font-size="8.60" fill="#1a1a1a" textLength="4.30" lengthAdjust="spacingAndGlyphs">2</text>
<text x="384.10" y="265.44" font-size="8.60" fill="#1a1a1a" textLength="8.61" lengthAdjust="spacingAndGlyphs">–2</text>
<text x="384.10" y="278.11" font-size="8.60" fill="#1a1a1a" textLength="12.91" lengthAdjust="spacingAndGlyphs">–10</text>
<text x="384.10" y="290.78" font-size="8.60" fill="#1a1a1a" textLength="12.91" lengthAdjust="spacingAndGlyphs">–15</text>
<text x="384.10" y="303.45" font-size="8.60" fill="#1a1a1a" textLength="12.91" lengthAdjust="spacingAndGlyphs">–20</text>
<text x="384.10" y="316.13" font-size="8.60" fill="#1a1a1a" textLength="12.91" lengthAdjust="spacingAndGlyphs">–25</text>
<text x="375.00" y="181.50" font-size="8.2" fill="#1a1a1a" textLength="24.6" lengthAdjust="spacingAndGlyphs">(W/m<tspan font-size="5.5" dy="-3">2</tspan><tspan dy="3">)</tspan></text>
<rect x="1.2" y="359.4" width="161.2" height="139.4" fill="#fff"/>
<g clip-path="url(#cbe)">
<g clip-path="url(#cee)">
<ellipse cx="81.6" cy="429.1" rx="80.3" ry="69.3" fill="#e8de32"/>
<g transform="translate(81.6 428.9)">
<path d="M-51.7 -52.8 C-49.4 -53.5 -45.0 -54.1 -41.2 -53.7 C-37.4 -53.3 -31.6 -51.5 -29.0 -50.2 C-26.4 -48.9 -24.9 -47.2 -25.5 -45.9 C-26.1 -44.6 -29.3 -43.1 -32.5 -42.4 C-35.7 -41.7 -41.2 -42.4 -44.7 -41.5 C-48.2 -40.6 -51.4 -39.0 -53.4 -37.1 C-55.4 -35.2 -56.6 -32.5 -56.9 -30.2 C-57.2 -27.9 -54.0 -24.4 -55.2 -23.2 C-56.4 -22.0 -61.6 -22.6 -63.9 -23.2 C-66.2 -23.8 -68.5 -25.0 -69.1 -26.7 C-69.7 -28.4 -68.6 -31.0 -67.4 -33.6 C-66.2 -36.2 -64.1 -39.8 -62.1 -42.4 C-60.1 -45.0 -56.9 -47.6 -55.2 -49.3 C-53.5 -51.0 -54.0 -52.1 -51.7 -52.8 Z" fill="#ffffff"/>
<path d="M-41.0 -52.5 C-40.6 -52.7 -38.9 -51.9 -38.5 -51.5 C-38.1 -51.1 -38.1 -50.2 -38.5 -50.0 C-38.9 -49.8 -40.6 -50.1 -41.0 -50.5 C-41.4 -50.9 -41.4 -52.3 -41.0 -52.5 Z" fill="#1fcf8f"/>
<path d="M0.2 -43.5 C1.8 -44.7 6.6 -43.6 10.0 -44.0 C13.4 -44.4 17.8 -45.8 20.6 -45.6 C23.4 -45.4 25.8 -44.4 26.8 -43.0 C27.8 -41.6 28.3 -38.6 26.8 -37.4 C25.3 -36.2 21.1 -36.2 18.0 -36.0 C14.9 -35.8 11.0 -35.8 8.0 -36.0 C5.0 -36.2 1.5 -35.8 0.2 -37.0 C-1.1 -38.2 -1.4 -42.3 0.2 -43.5 Z" fill="#eeb338"/>
<path d="M28.8 -29.2 C29.4 -29.6 32.2 -28.7 32.9 -28.0 C33.6 -27.3 33.5 -25.5 32.9 -25.1 C32.2 -24.7 29.7 -24.8 29.0 -25.5 C28.3 -26.2 28.2 -28.8 28.8 -29.2 Z" fill="#eeb338"/>
<path d="M-20.0 46.0 C-19.0 45.0 -17.0 44.4 -14.0 44.0 C-11.0 43.6 -4.0 41.5 -2.0 43.8 C0.0 46.1 -1.0 55.4 -2.0 57.8 C-3.0 60.2 -6.0 59.0 -8.0 58.0 C-10.0 57.0 -12.0 53.3 -14.0 52.0 C-16.0 50.7 -19.0 51.0 -20.0 50.0 C-21.0 49.0 -21.0 47.0 -20.0 46.0 Z" fill="#eeb338"/>
<path d="M2.0 42.0 C3.7 39.3 8.9 40.5 12.0 40.8 C15.1 41.1 19.3 42.1 20.6 44.0 C21.9 45.9 21.4 49.8 20.0 52.0 C18.6 54.2 15.0 56.4 12.0 57.2 C9.0 58.0 3.7 59.5 2.0 57.0 C0.3 54.5 0.3 44.7 2.0 42.0 Z" fill="#eeb338"/>
<path d="M-47.0 0.0 C-47.0 -4.6 -47.5 -13.3 -46.0 -18.0 C-44.5 -22.7 -41.0 -25.3 -38.0 -28.0 C-35.0 -30.7 -31.7 -32.6 -28.0 -34.0 C-24.3 -35.4 -20.0 -35.7 -16.0 -36.2 C-12.0 -36.7 -7.3 -37.7 -4.0 -37.2 C-0.7 -36.7 1.2 -33.6 4.0 -33.0 C6.8 -32.4 9.7 -33.8 12.5 -33.5 C15.3 -33.2 18.2 -33.1 21.0 -31.5 C23.8 -29.9 27.0 -27.1 29.5 -24.0 C32.0 -20.9 34.4 -17.0 36.0 -13.0 C37.6 -9.0 38.8 -3.8 39.0 0.0 C39.2 3.8 38.3 7.3 37.0 10.0 C35.7 12.7 32.7 13.7 31.0 16.0 C29.3 18.3 28.7 21.5 27.0 24.0 C25.3 26.5 23.8 28.6 21.0 31.0 C18.2 33.4 13.9 36.9 10.5 38.5 C7.1 40.1 2.6 40.1 0.5 40.5 C-1.6 40.9 1.1 41.1 -2.0 40.8 C-5.1 40.5 -13.3 39.8 -18.0 38.5 C-22.7 37.2 -26.3 35.7 -30.0 33.0 C-33.7 30.3 -37.4 26.4 -40.0 22.5 C-42.6 18.6 -44.7 13.7 -45.9 9.9 C-47.1 6.2 -47.0 4.6 -47.0 0.0 Z" fill="#ffffff"/>
<path d="M26.0 18.0 C26.7 15.7 30.0 14.2 32.0 14.0 C34.0 13.8 36.5 15.3 38.0 17.0 C39.5 18.7 41.3 21.7 41.0 24.0 C40.7 26.3 38.2 29.9 36.0 30.6 C33.8 31.3 29.7 30.1 28.0 28.0 C26.3 25.9 25.3 20.3 26.0 18.0 Z" fill="#eeb338"/>
<path d="M30.9 18.3 C31.2 17.3 33.3 17.6 34.0 19.0 C34.7 20.4 35.3 25.5 35.0 26.5 C34.7 27.5 32.7 26.4 32.0 25.0 C31.3 23.6 30.6 19.3 30.9 18.3 Z" fill="#f38b2c"/>
<path d="M-46.4 3.0 C-46.5 -1.2 -45.5 -10.6 -43.8 -15.1 C-42.1 -19.6 -38.8 -21.7 -36.0 -24.0 C-33.2 -26.3 -30.0 -28.1 -27.0 -29.0 C-24.0 -29.9 -21.1 -29.1 -17.9 -29.4 C-14.7 -29.7 -11.0 -30.6 -8.0 -31.0 C-5.0 -31.4 -1.7 -32.7 0.3 -32.0 C2.3 -31.3 2.7 -28.5 4.0 -27.0 C5.3 -25.5 6.2 -23.2 8.0 -22.9 C9.8 -22.6 12.4 -24.6 15.0 -25.0 C17.6 -25.4 20.9 -27.6 23.6 -25.5 C26.3 -23.4 29.2 -17.2 31.4 -12.5 C33.6 -7.8 36.3 -0.9 36.6 3.0 C36.9 6.9 33.9 9.3 33.0 11.0 C32.1 12.7 32.4 11.2 31.4 13.4 C30.4 15.6 28.6 21.5 26.8 24.4 C25.0 27.3 22.4 29.0 20.6 30.6 C18.8 32.2 17.8 33.0 16.0 34.0 C14.2 35.0 12.6 35.8 10.0 36.5 C7.4 37.2 3.3 37.8 0.3 38.0 C-2.7 38.2 -4.6 38.0 -8.0 37.5 C-11.4 37.0 -16.2 36.2 -20.0 35.0 C-23.8 33.8 -28.0 32.5 -31.0 30.0 C-34.0 27.5 -36.0 23.3 -38.0 20.0 C-40.0 16.7 -41.6 12.8 -43.0 10.0 C-44.4 7.2 -46.3 7.2 -46.4 3.0 Z" fill="#1fcf8f"/>
<path d="M14.0 14.0 C14.8 13.1 17.7 12.2 19.0 12.5 C20.3 12.8 22.0 14.8 22.0 16.0 C22.0 17.2 20.3 19.7 19.0 20.0 C17.7 20.3 14.8 19.0 14.0 18.0 C13.2 17.0 13.2 14.9 14.0 14.0 Z" fill="#ffffff"/>
<path d="M-40.0 -5.0 C-40.7 -6.5 -39.7 -10.0 -39.0 -12.0 C-38.3 -14.0 -36.8 -17.3 -36.0 -17.0 C-35.2 -16.7 -34.2 -12.3 -34.0 -10.0 C-33.8 -7.7 -34.0 -3.8 -35.0 -3.0 C-36.0 -2.2 -39.3 -3.5 -40.0 -5.0 Z" fill="#1dc8c6"/>
<path d="M-38.0 8.0 C-38.5 10.2 -38.7 15.3 -37.0 19.0 C-35.3 22.7 -31.7 27.4 -28.0 30.0 C-24.3 32.6 -19.7 33.4 -15.0 34.5 C-10.3 35.6 -3.9 36.8 0.3 36.5 C4.5 36.2 7.7 34.8 10.0 33.0 C12.3 31.2 13.7 28.2 14.0 26.0 C14.3 23.8 13.3 20.3 12.0 20.0 C10.7 19.7 9.0 23.5 6.0 24.0 C3.0 24.5 -1.7 23.7 -6.0 23.0 C-10.3 22.3 -16.0 21.7 -20.0 20.0 C-24.0 18.3 -27.7 15.3 -30.0 13.0 C-32.3 10.7 -32.7 6.8 -34.0 6.0 C-35.3 5.2 -37.5 5.8 -38.0 8.0 Z" fill="#1dc8c6"/>
<path d="M-36.0 10.0 C-36.4 11.6 -37.2 14.7 -35.6 17.7 C-34.0 20.7 -30.1 25.6 -26.6 28.1 C-23.1 30.6 -19.1 31.5 -14.6 32.6 C-10.1 33.7 -3.7 35.1 0.3 34.9 C4.3 34.6 7.3 32.7 9.3 31.1 C11.3 29.5 12.0 27.4 12.3 25.2 C12.6 23.0 12.1 18.4 11.0 18.0 C9.9 17.6 8.0 22.0 6.0 23.0 C4.0 24.0 2.0 24.2 -1.0 24.0 C-4.0 23.8 -8.5 22.8 -12.0 22.0 C-15.5 21.2 -19.3 20.1 -22.0 19.0 C-24.7 17.9 -26.2 17.3 -28.0 15.5 C-29.8 13.7 -31.7 8.9 -33.0 8.0 C-34.3 7.1 -35.6 8.4 -36.0 10.0 Z" fill="#16a2f0"/>
<path d="M-32.0 18.0 C-31.7 19.6 -31.1 24.4 -29.0 26.4 C-26.9 28.4 -22.6 29.1 -19.2 30.1 C-15.8 31.1 -11.9 31.8 -8.7 32.3 C-5.4 32.8 -2.2 33.4 0.3 33.1 C2.8 32.9 4.6 31.9 6.3 30.8 C8.0 29.7 9.9 28.0 10.3 26.5 C10.8 25.0 9.7 22.2 9.0 22.0 C8.3 21.8 8.0 24.4 6.3 25.0 C4.6 25.6 1.8 25.8 -1.2 25.5 C-4.2 25.2 -8.2 24.3 -11.7 23.5 C-15.2 22.7 -18.9 21.6 -22.1 20.5 C-25.3 19.4 -29.4 17.4 -31.0 17.0 C-32.6 16.6 -32.3 16.4 -32.0 18.0 Z" fill="#2a45f0"/>
<path d="M-31.0 19.0 C-32.0 19.6 -30.1 23.6 -28.1 25.2 C-26.1 26.8 -22.4 27.9 -19.2 28.9 C-16.0 29.9 -11.9 30.6 -8.7 31.1 C-5.4 31.6 -2.2 32.1 0.3 31.9 C2.8 31.6 4.8 30.6 6.3 29.6 C7.8 28.6 8.9 27.2 9.3 25.9 C9.8 24.6 9.5 22.1 9.0 22.0 C8.5 21.9 8.0 24.8 6.3 25.5 C4.6 26.2 1.8 26.2 -1.2 26.0 C-4.2 25.8 -8.2 25.2 -11.7 24.5 C-15.2 23.8 -18.9 22.4 -22.1 21.5 C-25.3 20.6 -30.0 18.4 -31.0 19.0 Z" fill="#8316e3"/>
<path d="M3.0 -22.0 C3.8 -23.5 7.5 -24.0 10.0 -24.0 C12.5 -24.0 15.3 -23.2 18.0 -22.0 C20.7 -20.8 24.0 -19.0 26.0 -17.0 C28.0 -15.0 29.3 -12.3 30.0 -10.0 C30.7 -7.7 30.7 -4.3 30.0 -3.0 C29.3 -1.7 27.7 -1.0 26.0 -2.0 C24.3 -3.0 22.3 -7.0 20.0 -9.0 C17.7 -11.0 14.5 -13.0 12.0 -14.0 C9.5 -15.0 6.5 -13.7 5.0 -15.0 C3.5 -16.3 2.2 -20.5 3.0 -22.0 Z" fill="#1dc8c6"/>
<path d="M8.0 -20.0 C9.0 -20.8 13.3 -20.8 16.0 -20.0 C18.7 -19.2 22.0 -17.0 24.0 -15.0 C26.0 -13.0 27.5 -10.0 28.0 -8.0 C28.5 -6.0 27.8 -3.3 27.0 -3.0 C26.2 -2.7 24.7 -4.5 23.0 -6.0 C21.3 -7.5 19.2 -10.5 17.0 -12.0 C14.8 -13.5 11.5 -13.7 10.0 -15.0 C8.5 -16.3 7.0 -19.2 8.0 -20.0 Z" fill="#16a2f0"/>
<path d="M12.0 -18.0 C12.8 -18.6 17.8 -17.7 20.0 -16.5 C22.2 -15.3 24.0 -12.9 25.0 -11.0 C26.0 -9.1 26.7 -5.5 26.0 -5.0 C25.3 -4.5 22.8 -6.7 21.0 -8.0 C19.2 -9.3 16.5 -11.3 15.0 -13.0 C13.5 -14.7 11.2 -17.4 12.0 -18.0 Z" fill="#2a45f0"/>
<path d="M20.5 -14.1 C21.0 -14.4 23.1 -13.5 24.0 -12.0 C24.9 -10.5 25.9 -5.9 25.7 -4.9 C25.5 -3.9 23.8 -5.2 23.0 -6.0 C22.2 -6.8 21.4 -8.7 21.0 -10.0 C20.6 -11.3 20.0 -13.8 20.5 -14.1 Z" fill="#8316e3"/>
<path d="M24.0 -3.0 C24.5 -3.5 26.7 -2.5 28.0 -1.0 C29.3 0.5 30.8 3.8 32.0 6.0 C33.2 8.2 34.8 10.5 35.0 12.0 C35.2 13.5 34.0 15.5 33.0 15.0 C32.0 14.5 30.3 11.2 29.0 9.0 C27.7 6.8 25.8 4.0 25.0 2.0 C24.2 0.0 23.5 -2.5 24.0 -3.0 Z" fill="#2a45f0"/>
<path d="M25.0 -3.0 C25.3 -3.3 27.1 -0.5 28.0 1.0 C28.9 2.5 30.4 4.8 30.5 6.0 C30.6 7.2 29.2 8.5 28.5 8.0 C27.8 7.5 26.6 4.8 26.0 3.0 C25.4 1.2 24.7 -2.7 25.0 -3.0 Z" fill="#8316e3"/>
<rect x="0.3" y="20" width="1.6" height="55" fill="#fff"/>
</g></g>
<g clip-path="url(#cle)"><g transform="translate(81.6 428.9)">
<path d="M-35.8 0.2 L-35.3 -5.8 L-34.3 -10.8 L-31.8 -14.8 L-28.8 -18.8 L-25.8 -21.8 L-21.8 -23.8 L-17.8 -24.8 L-13.8 -25.3 L-9.8 -24.8 L-6.8 -23.8 L-5.8 -21.8 L-6.5 -19.5 L-6.3 -16.3 L-4.8 -12.8 L-2.8 -9.8 L0.2 -7.8 L3.2 -6.8 L4.7 -9.3 L5.2 -11.8 L5.2 -13.8 L7.2 -14.8 L10.2 -15.3 L12.2 -14.3 L16.2 -13.8 L19.2 -11.8 L21.2 -8.8 L23.2 -5.8 L25.2 -3.8 L26.4 -0.8 L26.2 1.2 L25.4 5.2 L26.4 8.2 L29.2 10.2 L31.5 12.5 L33.0 16.0 L34.7 19.2 L37.0 20.5 L35.5 21.2 L33.3 19.0 L31.3 15.0 L29.5 12.4 L27.6 11.8 L24.5 11.2 L21.3 9.9 L18.2 8.0 L14.2 8.4 L11.2 10.4 L10.2 14.2 L8.2 19.2 L5.2 23.2 L2.2 24.8 L-1.8 24.5 L-7.8 23.5 L-12.8 22.7 L-17.8 21.7 L-22.8 20.2 L-26.8 18.2 L-28.8 15.2 L-29.8 11.2 L-31.8 8.2 L-33.8 4.2 Z" fill="#1fcf8f"/>
<path d="M-12.7 -19.5 C-10.5 -19.1 -5.8 -17.6 -3.6 -16.4 C-1.4 -15.2 -0.4 -14.6 0.3 -12.5 C1.0 -10.4 0.5 -6.6 0.5 -4.0 C0.5 -1.4 0.6 0.3 0.3 3.0 C0.0 5.7 -0.1 9.2 -1.0 12.0 C-1.9 14.8 -3.1 18.2 -4.9 19.5 C-6.7 20.8 -9.5 20.2 -12.0 20.0 C-14.5 19.8 -17.7 19.9 -20.0 18.0 C-22.3 16.1 -24.5 11.4 -25.7 8.3 C-26.9 5.2 -26.8 2.1 -27.0 -0.5 C-27.2 -3.1 -27.8 -5.0 -27.0 -7.3 C-26.2 -9.6 -23.7 -12.1 -22.0 -14.0 C-20.3 -15.9 -18.6 -17.6 -17.0 -18.5 C-15.4 -19.4 -14.9 -19.9 -12.7 -19.5 Z" fill="#ffffff"/>
</g></g>
<g transform="translate(81.6 429.1)">
<g fill="none" stroke="#000" stroke-width="1.3" stroke-dasharray="3.9 1.5">
<ellipse cx="0" cy="0" rx="80.3" ry="69.3"/>
<ellipse cx="0" cy="0" rx="47.6" ry="43.0"/>
<path d="M-80.3 0 H80.3 M-1.0 -69.3 V69.3"/>
</g></g>
<g transform="translate(81.6 428.9)"><use href="#land"/></g>
<g transform="translate(81.6 429.1)" stroke="#1a3f72" stroke-width="0.35">
<text x="-74.40" y="-40.00" font-size="9.30" fill="#1a3f72" textLength="19.13" lengthAdjust="spacingAndGlyphs">40 S</text>
<text x="-50.90" y="-26.80" font-size="9.30" fill="#1a3f72" textLength="19.13" lengthAdjust="spacingAndGlyphs">60 S</text>
<text x="-9.40" y="-60.40" font-size="9.30" fill="#1a3f72" textLength="15.20" lengthAdjust="spacingAndGlyphs">180</text>
<text x="-78.60" y="1.90" font-size="9.30" fill="#1a3f72" textLength="15.72" lengthAdjust="spacingAndGlyphs">90E</text>
<text x="60.20" y="2.50" font-size="9.30" fill="#1a3f72" textLength="19.89" lengthAdjust="spacingAndGlyphs">90W</text>
<text x="-3.80" y="65.20" font-size="9.00" fill="#1a3f72" textLength="5.00" lengthAdjust="spacingAndGlyphs">0</text>
</g>
</g>
<rect x="1.2" y="359.4" width="161.2" height="139.4" fill="none" stroke="#333" stroke-width="1.2"/>
<text x="2.00" y="355.80" font-size="8.40" fill="#1a1a1a" textLength="127.00" lengthAdjust="spacingAndGlyphs">(e) (1–a)RSDS+eRLDS NoS–S DJF</text>
<text x="138.80" y="355.80" font-size="8.40" fill="#1a1a1a" textLength="13.00" lengthAdjust="spacingAndGlyphs">DJF</text>
<rect x="173.2" y="359.40" width="7.4" height="12.72" fill="#e5058c"/>
<rect x="173.2" y="372.07" width="7.4" height="12.72" fill="#f5454a"/>
<rect x="173.2" y="384.75" width="7.4" height="12.72" fill="#f38b2c"/>
<rect x="173.2" y="397.42" width="7.4" height="12.72" fill="#eeb338"/>
<rect x="173.2" y="410.09" width="7.4" height="12.72" fill="#f0e632"/>
<rect x="173.2" y="422.76" width="7.4" height="12.72" fill="#ffffff"/>
<rect x="173.2" y="435.44" width="7.4" height="12.72" fill="#1fcf8f"/>
<rect x="173.2" y="448.11" width="7.4" height="12.72" fill="#1dc8c6"/>
<rect x="173.2" y="460.78" width="7.4" height="12.72" fill="#16a2f0"/>
<rect x="173.2" y="473.45" width="7.4" height="12.72" fill="#2a45f0"/>
<rect x="173.2" y="486.13" width="7.4" height="12.72" fill="#8316e3"/>
<g stroke="#222" stroke-width="0.9" fill="none">
<rect x="173.2" y="359.40" width="7.4" height="139.40"/>
<path d="M173.2 372.07 h7.4"/>
<path d="M173.2 384.75 h7.4"/>
<path d="M173.2 397.42 h7.4"/>
<path d="M173.2 410.09 h7.4"/>
<path d="M173.2 422.76 h7.4"/>
<path d="M173.2 435.44 h7.4"/>
<path d="M173.2 448.11 h7.4"/>
<path d="M173.2 460.78 h7.4"/>
<path d="M173.2 473.45 h7.4"/>
<path d="M173.2 486.13 h7.4"/>
</g>
<text x="182.50" y="375.17" font-size="8.60" fill="#1a1a1a" textLength="8.61" lengthAdjust="spacingAndGlyphs">25</text>
<text x="182.50" y="387.85" font-size="8.60" fill="#1a1a1a" textLength="8.61" lengthAdjust="spacingAndGlyphs">20</text>
<text x="182.50" y="400.52" font-size="8.60" fill="#1a1a1a" textLength="8.61" lengthAdjust="spacingAndGlyphs">15</text>
<text x="182.50" y="413.19" font-size="8.60" fill="#1a1a1a" textLength="8.61" lengthAdjust="spacingAndGlyphs">10</text>
<text x="182.50" y="438.54" font-size="8.60" fill="#1a1a1a" textLength="8.61" lengthAdjust="spacingAndGlyphs">–2</text>
<text x="182.50" y="451.21" font-size="8.60" fill="#1a1a1a" textLength="12.91" lengthAdjust="spacingAndGlyphs">–10</text>
<text x="182.50" y="463.88" font-size="8.60" fill="#1a1a1a" textLength="12.91" lengthAdjust="spacingAndGlyphs">–15</text>
<text x="182.50" y="476.55" font-size="8.60" fill="#1a1a1a" textLength="12.91" lengthAdjust="spacingAndGlyphs">–20</text>
<text x="182.50" y="489.23" font-size="8.60" fill="#1a1a1a" textLength="12.91" lengthAdjust="spacingAndGlyphs">–25</text>
<text x="170.00" y="353.00" font-size="8.2" fill="#1a1a1a" textLength="24.6" lengthAdjust="spacingAndGlyphs">(W/m<tspan font-size="5.5" dy="-3">2</tspan><tspan dy="3">)</tspan></text>
<rect x="202.8" y="359.4" width="161.2" height="139.4" fill="#fff"/>
<g clip-path="url(#cbf)">
<g clip-path="url(#cef)">
<ellipse cx="284.2" cy="429.3" rx="80.3" ry="69.3" fill="#ffffff"/>
<g transform="translate(283.6 429.0)">
<path d="M-52.0 0.0 C-52.2 -3.6 -51.8 -7.8 -51.0 -11.5 C-50.2 -15.2 -48.8 -19.2 -47.0 -22.5 C-45.2 -25.8 -43.1 -28.8 -40.0 -31.0 C-36.9 -33.2 -32.5 -34.3 -28.5 -35.5 C-24.5 -36.7 -19.9 -37.5 -15.8 -38.0 C-11.7 -38.5 -6.3 -38.7 -3.6 -38.8 C-0.9 -38.9 -1.3 -39.2 0.6 -38.8 C2.5 -38.4 5.9 -37.1 7.8 -36.4 C9.7 -35.6 9.9 -34.8 11.9 -34.3 C13.9 -33.8 18.3 -34.0 20.0 -33.3 C21.7 -32.6 21.8 -31.2 22.0 -30.0 C22.2 -28.8 20.7 -27.5 21.0 -26.0 C21.3 -24.5 22.8 -22.8 24.0 -21.0 C25.2 -19.2 26.8 -17.0 28.0 -15.0 C29.2 -13.0 30.2 -11.3 31.0 -9.0 C31.8 -6.7 32.2 -2.8 33.0 -1.0 C33.8 0.8 34.8 1.2 36.0 2.0 C37.2 2.8 39.1 2.7 40.5 4.0 C41.9 5.3 44.3 7.7 44.6 10.1 C44.9 12.5 43.5 16.2 42.5 18.3 C41.5 20.4 40.2 21.4 38.5 22.4 C36.8 23.4 34.0 23.0 32.3 24.4 C30.6 25.8 30.2 28.6 28.2 30.6 C26.1 32.7 23.1 35.0 20.0 36.7 C16.9 38.4 13.2 39.8 9.8 40.8 C6.4 41.8 1.5 42.2 -0.4 42.8 C-2.3 43.4 -0.1 44.0 -1.6 44.3 C-3.1 44.5 -6.3 45.0 -9.7 44.3 C-13.1 43.6 -17.8 42.6 -21.8 40.3 C-25.8 37.9 -30.4 33.5 -33.9 30.2 C-37.4 26.9 -40.3 23.9 -43.0 20.5 C-45.7 17.1 -48.5 13.4 -50.0 10.0 C-51.5 6.6 -51.8 3.6 -52.0 0.0 Z" fill="#e8de32"/>
<path d="M-43.0 0.0 C-43.4 -2.8 -43.1 -8.1 -42.5 -11.5 C-41.9 -14.9 -41.1 -18.1 -39.5 -20.5 C-37.9 -22.9 -35.4 -24.8 -33.0 -26.0 C-30.6 -27.2 -28.2 -27.2 -25.0 -27.5 C-21.8 -27.8 -17.5 -27.5 -14.0 -27.5 C-10.5 -27.5 -6.0 -27.8 -4.0 -27.5 C-2.0 -27.2 -1.0 -26.6 -2.0 -26.0 C-3.0 -25.4 -7.0 -24.3 -10.0 -24.0 C-13.0 -23.7 -17.0 -24.7 -20.0 -24.0 C-23.0 -23.3 -25.8 -22.0 -28.0 -20.0 C-30.2 -18.0 -32.0 -15.0 -33.0 -12.0 C-34.0 -9.0 -34.0 -5.0 -34.0 -2.0 C-34.0 1.0 -32.7 4.0 -33.0 6.0 C-33.3 8.0 -35.2 9.3 -36.0 10.0 C-36.8 10.7 -37.3 10.8 -38.0 10.0 C-38.7 9.2 -39.2 6.7 -40.0 5.0 C-40.8 3.3 -42.6 2.8 -43.0 0.0 Z" fill="#ffffff"/>
<path d="M-6.0 -18.3 C-4.5 -19.0 1.0 -18.3 4.0 -18.3 C7.0 -18.3 9.5 -18.6 12.0 -18.5 C14.5 -18.4 17.3 -18.9 19.0 -18.0 C20.7 -17.1 21.8 -14.3 22.0 -13.0 C22.2 -11.7 21.7 -10.0 20.0 -10.0 C18.3 -10.0 15.3 -12.7 12.0 -13.0 C8.7 -13.3 2.8 -11.8 0.0 -12.0 C-2.8 -12.2 -4.0 -12.9 -5.0 -14.0 C-6.0 -15.1 -7.5 -17.6 -6.0 -18.3 Z" fill="#ffffff"/>
<path d="M22.5 -31.0 C23.0 -31.5 24.1 -31.2 25.0 -30.0 C25.9 -28.8 27.0 -26.2 28.0 -24.0 C29.0 -21.8 30.2 -19.2 31.0 -17.0 C31.8 -14.8 32.8 -12.5 33.0 -11.0 C33.2 -9.5 33.0 -8.2 32.5 -8.0 C32.0 -7.8 30.9 -8.7 30.0 -10.0 C29.1 -11.3 28.0 -14.0 27.0 -16.0 C26.0 -18.0 24.8 -20.2 24.0 -22.0 C23.2 -23.8 22.2 -25.5 22.0 -27.0 C21.8 -28.5 22.0 -30.5 22.5 -31.0 Z" fill="#1fcf8f"/>
<path d="M1.5 -33.0 C2.0 -33.5 3.8 -31.2 4.0 -30.0 C4.2 -28.8 3.5 -26.5 3.0 -26.0 C2.5 -25.5 1.2 -25.8 1.0 -27.0 C0.8 -28.2 1.0 -32.5 1.5 -33.0 Z" fill="#ffffff"/>
<path d="M36.4 -14.9 C36.8 -15.4 38.3 -14.2 39.0 -13.0 C39.7 -11.8 40.7 -9.1 40.5 -8.0 C40.3 -7.0 38.7 -6.4 38.0 -6.7 C37.3 -7.0 36.8 -8.6 36.5 -10.0 C36.2 -11.4 36.0 -14.4 36.4 -14.9 Z" fill="#e8de32"/>
<path d="M-0.5 -33.0 C0.1 -34.2 2.8 -33.0 3.5 -32.0 C4.2 -31.0 4.3 -28.2 3.7 -27.0 C3.1 -25.8 0.7 -24.0 0.0 -25.0 C-0.7 -26.0 -1.1 -31.8 -0.5 -33.0 Z" fill="#1fcf8f"/>
<path d="M-10.0 -30.0 C-9.5 -30.6 -6.2 -31.3 -5.0 -31.0 C-3.8 -30.7 -2.5 -28.6 -3.0 -28.0 C-3.5 -27.4 -6.8 -27.2 -8.0 -27.5 C-9.2 -27.8 -10.5 -29.4 -10.0 -30.0 Z" fill="#1fcf8f"/>
<path d="M-40.0 5.0 C-40.5 5.7 -39.2 9.5 -38.0 12.0 C-36.8 14.5 -35.0 17.7 -33.0 20.0 C-31.0 22.3 -28.8 24.3 -26.0 26.0 C-23.2 27.7 -20.0 29.0 -16.0 30.0 C-12.0 31.0 -4.3 32.7 -2.0 32.0 C0.3 31.3 0.3 27.3 -2.0 26.0 C-4.3 24.7 -12.0 25.0 -16.0 24.0 C-20.0 23.0 -23.5 21.7 -26.0 20.0 C-28.5 18.3 -29.5 16.0 -31.0 14.0 C-32.5 12.0 -33.5 9.5 -35.0 8.0 C-36.5 6.5 -39.5 4.3 -40.0 5.0 Z" fill="#eeb338"/>
<path d="M-36.0 12.0 C-36.3 12.7 -33.8 16.9 -32.0 19.0 C-30.2 21.1 -27.8 22.9 -25.0 24.5 C-22.2 26.1 -18.8 27.5 -15.0 28.5 C-11.2 29.5 -4.2 30.9 -2.0 30.5 C0.2 30.1 0.2 27.1 -2.0 26.0 C-4.2 24.9 -11.3 25.0 -15.0 24.0 C-18.7 23.0 -21.5 21.5 -24.0 20.0 C-26.5 18.5 -28.0 16.3 -30.0 15.0 C-32.0 13.7 -35.7 11.3 -36.0 12.0 Z" fill="#f38b2c"/>
<path d="M-26.0 23.0 C-26.0 23.3 -22.3 24.7 -20.0 25.5 C-17.7 26.3 -14.8 27.2 -12.0 27.8 C-9.2 28.4 -4.5 29.1 -3.0 28.8 C-1.5 28.5 -1.5 26.6 -3.0 26.0 C-4.5 25.4 -9.2 25.4 -12.0 25.0 C-14.8 24.6 -17.7 23.8 -20.0 23.5 C-22.3 23.2 -26.0 22.7 -26.0 23.0 Z" fill="#f5454a"/>
<path d="M18.0 12.2 C19.2 11.5 22.9 12.4 25.0 13.0 C27.1 13.6 29.8 14.4 30.3 16.0 C30.8 17.6 29.4 21.7 28.0 22.4 C26.6 23.1 23.7 20.9 22.0 20.0 C20.3 19.1 18.7 18.3 18.0 17.0 C17.3 15.7 16.8 12.9 18.0 12.2 Z" fill="#1fcf8f"/>
<path d="M12.0 16.0 C12.5 15.0 15.2 14.3 16.0 15.0 C16.8 15.7 17.5 19.0 17.0 20.0 C16.5 21.0 13.8 21.7 13.0 21.0 C12.2 20.3 11.5 17.0 12.0 16.0 Z" fill="#ffffff"/>
<path d="M34.4 -1.0 C34.6 -1.8 36.3 -1.7 37.0 -1.0 C37.7 -0.3 38.7 2.2 38.5 3.0 C38.3 3.8 36.7 4.7 36.0 4.0 C35.3 3.3 34.2 -0.2 34.4 -1.0 Z" fill="#1fcf8f"/>
</g></g>
<g clip-path="url(#clf)"><g transform="translate(283.6 429.0)">
<path d="M-35.8 0.2 L-35.3 -5.8 L-34.3 -10.8 L-31.8 -14.8 L-28.8 -18.8 L-25.8 -21.8 L-21.8 -23.8 L-17.8 -24.8 L-13.8 -25.3 L-9.8 -24.8 L-6.8 -23.8 L-5.8 -21.8 L-6.5 -19.5 L-6.3 -16.3 L-4.8 -12.8 L-2.8 -9.8 L0.2 -7.8 L3.2 -6.8 L4.7 -9.3 L5.2 -11.8 L5.2 -13.8 L7.2 -14.8 L10.2 -15.3 L12.2 -14.3 L16.2 -13.8 L19.2 -11.8 L21.2 -8.8 L23.2 -5.8 L25.2 -3.8 L26.4 -0.8 L26.2 1.2 L25.4 5.2 L26.4 8.2 L29.2 10.2 L31.5 12.5 L33.0 16.0 L34.7 19.2 L37.0 20.5 L35.5 21.2 L33.3 19.0 L31.3 15.0 L29.5 12.4 L27.6 11.8 L24.5 11.2 L21.3 9.9 L18.2 8.0 L14.2 8.4 L11.2 10.4 L10.2 14.2 L8.2 19.2 L5.2 23.2 L2.2 24.8 L-1.8 24.5 L-7.8 23.5 L-12.8 22.7 L-17.8 21.7 L-22.8 20.2 L-26.8 18.2 L-28.8 15.2 L-29.8 11.2 L-31.8 8.2 L-33.8 4.2 Z" fill="#ffffff"/>
</g></g>
<g transform="translate(284.2 429.3)">
<g fill="none" stroke="#000" stroke-width="1.3" stroke-dasharray="3.9 1.5">
<ellipse cx="0" cy="0" rx="80.3" ry="69.3"/>
<ellipse cx="0" cy="0" rx="47.6" ry="43.0"/>
<path d="M-80.3 0 H80.3 M-1.0 -69.3 V69.3"/>
</g></g>
<g transform="translate(283.6 429.0)"><use href="#land"/></g>
<g transform="translate(284.2 429.3)" stroke="#1a3f72" stroke-width="0.35">
<text x="-74.40" y="-40.00" font-size="9.30" fill="#1a3f72" textLength="19.13" lengthAdjust="spacingAndGlyphs">40 S</text>
<text x="-50.90" y="-26.80" font-size="9.30" fill="#1a3f72" textLength="19.13" lengthAdjust="spacingAndGlyphs">60 S</text>
<text x="-9.40" y="-60.40" font-size="9.30" fill="#1a3f72" textLength="15.20" lengthAdjust="spacingAndGlyphs">180</text>
<text x="-78.60" y="1.90" font-size="9.30" fill="#1a3f72" textLength="15.72" lengthAdjust="spacingAndGlyphs">90E</text>
<text x="60.20" y="2.50" font-size="9.30" fill="#1a3f72" textLength="19.89" lengthAdjust="spacingAndGlyphs">90W</text>
<text x="-3.80" y="65.20" font-size="9.00" fill="#1a3f72" textLength="5.00" lengthAdjust="spacingAndGlyphs">0</text>
</g>
</g>
<rect x="202.8" y="359.4" width="161.2" height="139.4" fill="none" stroke="#333" stroke-width="1.2"/>
<text x="206.00" y="355.80" font-size="8.40" fill="#1a1a1a" textLength="64.00" lengthAdjust="spacingAndGlyphs">(f) Sea Ice NoS–S</text>
<text x="289.00" y="355.80" font-size="8.40" fill="#1a1a1a" textLength="13.50" lengthAdjust="spacingAndGlyphs">DJF</text>
<rect x="374.8" y="359.40" width="7.4" height="12.72" fill="#e5058c"/>
<rect x="374.8" y="372.07" width="7.4" height="12.72" fill="#f5454a"/>
<rect x="374.8" y="384.75" width="7.4" height="12.72" fill="#f38b2c"/>
<rect x="374.8" y="397.42" width="7.4" height="12.72" fill="#eeb338"/>
<rect x="374.8" y="410.09" width="7.4" height="12.72" fill="#f0e632"/>
<rect x="374.8" y="422.76" width="7.4" height="12.72" fill="#ffffff"/>
<rect x="374.8" y="435.44" width="7.4" height="12.72" fill="#1fcf8f"/>
<rect x="374.8" y="448.11" width="7.4" height="12.72" fill="#1dc8c6"/>
<rect x="374.8" y="460.78" width="7.4" height="12.72" fill="#16a2f0"/>
<rect x="374.8" y="473.45" width="7.4" height="12.72" fill="#2a45f0"/>
<rect x="374.8" y="486.13" width="7.4" height="12.72" fill="#8316e3"/>
<g stroke="#222" stroke-width="0.9" fill="none">
<rect x="374.8" y="359.40" width="7.4" height="139.40"/>
<path d="M374.8 372.07 h7.4"/>
<path d="M374.8 384.75 h7.4"/>
<path d="M374.8 397.42 h7.4"/>
<path d="M374.8 410.09 h7.4"/>
<path d="M374.8 422.76 h7.4"/>
<path d="M374.8 435.44 h7.4"/>
<path d="M374.8 448.11 h7.4"/>
<path d="M374.8 460.78 h7.4"/>
<path d="M374.8 473.45 h7.4"/>
<path d="M374.8 486.13 h7.4"/>
</g>
<text x="384.10" y="375.17" font-size="8.60" fill="#1a1a1a" textLength="8.61" lengthAdjust="spacingAndGlyphs">30</text>
<text x="384.10" y="387.85" font-size="8.60" fill="#1a1a1a" textLength="8.61" lengthAdjust="spacingAndGlyphs">20</text>
<text x="384.10" y="400.52" font-size="8.60" fill="#1a1a1a" textLength="8.61" lengthAdjust="spacingAndGlyphs">15</text>
<text x="384.10" y="413.19" font-size="8.60" fill="#1a1a1a" textLength="8.61" lengthAdjust="spacingAndGlyphs">10</text>
<text x="384.10" y="425.86" font-size="8.60" fill="#1a1a1a" textLength="4.30" lengthAdjust="spacingAndGlyphs">1</text>
<text x="384.10" y="438.54" font-size="8.60" fill="#1a1a1a" textLength="8.61" lengthAdjust="spacingAndGlyphs">–1</text>
<text x="384.10" y="451.21" font-size="8.60" fill="#1a1a1a" textLength="12.91" lengthAdjust="spacingAndGlyphs">–10</text>
<text x="384.10" y="463.88" font-size="8.60" fill="#1a1a1a" textLength="12.91" lengthAdjust="spacingAndGlyphs">–15</text>
<text x="384.10" y="476.55" font-size="8.60" fill="#1a1a1a" textLength="12.91" lengthAdjust="spacingAndGlyphs">–20</text>
<text x="384.10" y="489.23" font-size="8.60" fill="#1a1a1a" textLength="12.91" lengthAdjust="spacingAndGlyphs">–30</text>
<text x="374.00" y="354.00" font-size="8.20" fill="#1a1a1a" textLength="12.11" lengthAdjust="spacingAndGlyphs">(%)</text>
</svg></body></html>
